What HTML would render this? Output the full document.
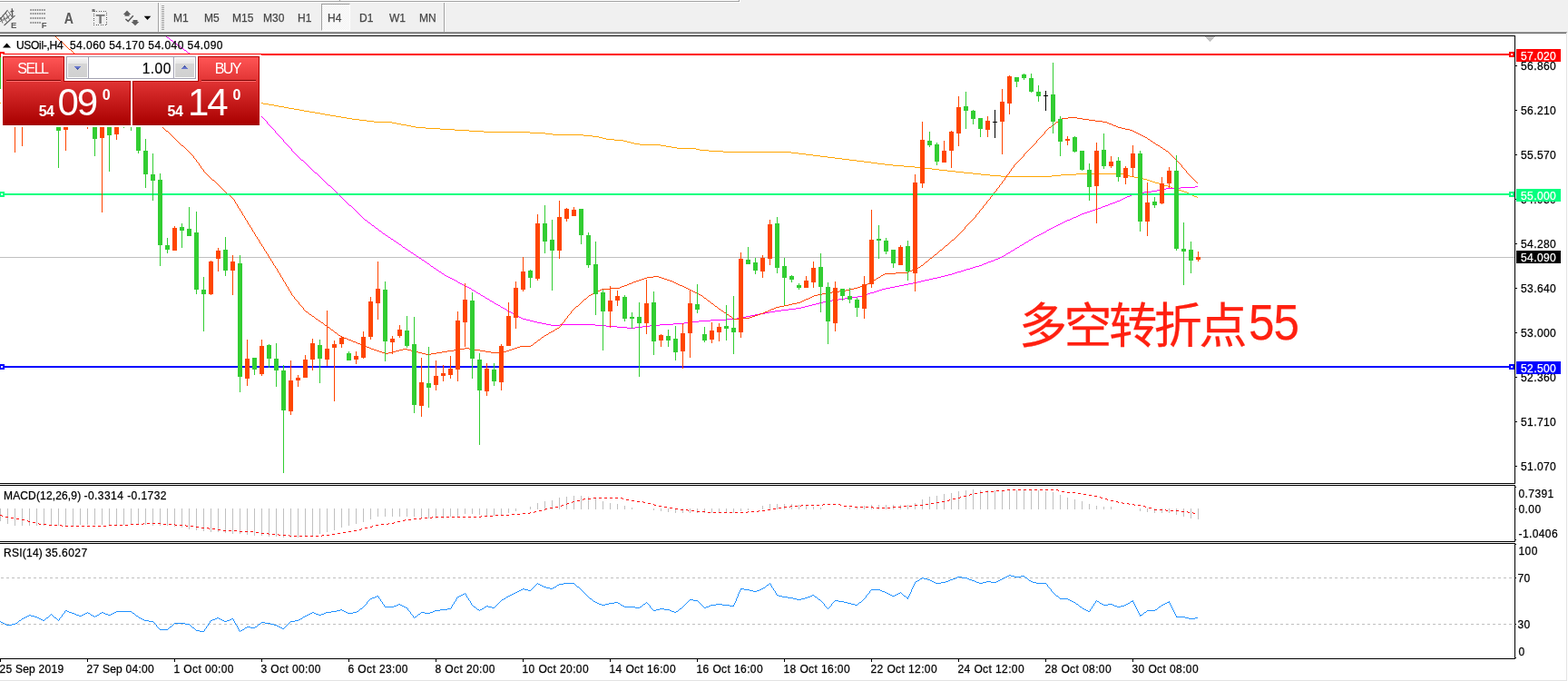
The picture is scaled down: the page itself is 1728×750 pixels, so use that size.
<!DOCTYPE html>
<html lang="zh"><head><meta charset="utf-8"><title>USOil H4</title><style>
html,body{margin:0;padding:0;background:#fff}
body{width:1728px;height:750px;overflow:hidden;position:relative;font-family:"Liberation Sans","Noto Sans CJK SC",sans-serif;font-size:12px;line-height:14px;color:#000}
.t{position:absolute;white-space:nowrap;font-size:12px;line-height:14px;height:14px;letter-spacing:0.4px;-webkit-text-stroke:0.25px currentColor}
.bx{position:absolute;left:1671px;width:49px;height:14px;color:#fff;font-size:12px;line-height:14px;letter-spacing:0.4px;box-sizing:border-box;padding:1px 0 0 5px;white-space:nowrap;overflow:hidden;-webkit-text-stroke:0.25px currentColor}
.t.tb{color:#484848;letter-spacing:0}
.t.big{font-family:"Liberation Sans","Noto Sans CJK SC",sans-serif;font-size:53px;line-height:64px;height:64px;color:#ff2010;letter-spacing:-3.4px}
.t.big .n{display:inline-block;font-size:55px;line-height:64px;letter-spacing:-1px;transform:scaleX(0.93);transform-origin:0 50%;margin-left:4.5px;position:relative;top:-3.5px}
.sep{position:absolute;top:3px;width:1px;height:32px;background:#a0a0a0;box-shadow:1px 0 0 #fff}
.grip{position:absolute;left:178px;top:6px;width:3px;height:27px;background:repeating-linear-gradient(#a0a0a0 0 1px,#f0f0f0 1px 2px)}
.h4box{position:absolute;left:354px;top:4px;width:32px;height:30px;box-sizing:border-box;border:1px solid;border-color:#a0a0a0 #fff #fff #a0a0a0;background:repeating-conic-gradient(#fff 0 25%,#f0f0f0 0 50%) 0 0/2px 2px}
#panel{position:absolute;left:1px;top:60px;width:287px;height:80px;background:#fff}
#panel .sell,#panel .buy{position:absolute;top:2px;height:28px;width:68px;box-sizing:border-box;border:1px solid #b40000;border-bottom:0;background:linear-gradient(#ff5555,#e03333);color:#fff;font-size:16px;text-align:center}
#panel .sell{left:2px} #panel .buy{left:217px}
#panel .sell span,#panel .buy span{position:absolute;top:4px;line-height:18px;white-space:nowrap}
#panel .sell span{left:15.3px;letter-spacing:-1.5px} #panel .buy span{left:17.7px;letter-spacing:-1.6px}
#panel u{position:absolute;left:3px;right:3px;top:25px;height:1px;background:#7a0000;box-shadow:0 1px 0 #ff6e6e}
#panel .lo{position:absolute;top:29px;height:49px;box-sizing:border-box;border:1px solid #b40000;border-bottom-color:#a00000;background:linear-gradient(#e03333,#a90000);color:#fff}
#panel .l1{left:2px;width:141px} #panel .l2{left:145px;width:140px}
#panel .lo span{position:absolute;white-space:nowrap}
#panel .lo .s{font-size:16px;font-weight:bold;left:38.7px;top:24.5px;line-height:16px;letter-spacing:-0.5px}
#panel .lo .b{font-size:42px;left:59.5px;top:1px;line-height:44px;letter-spacing:-2px}
#panel .lo .u{font-size:16px;font-weight:bold;left:108.7px;top:6.5px;line-height:16px}
#panel .l2 .s{left:37.5px} #panel .l2 .b{left:60px} #panel .l2 .u{left:109.5px}
#panel .vol{position:absolute;left:72px;top:2px;width:143px;height:25px;box-sizing:border-box;border:1px solid #a3a3b3;background:#fff}
#panel .vol .sp{position:absolute;top:1px;width:21px;height:21px;background:linear-gradient(#f4f4f4,#e6e6e6 30%,#d6d6d6 31%,#d0d0d0)}
#panel .vol .a{left:1px} #panel .vol .b{right:1px}
#panel .vol .vs{position:absolute;top:0;width:1px;height:23px;background:#a3a3b3}
#panel .vol .inp{position:absolute;right:26.3px;top:3px;font-size:15.6px;line-height:19px;color:#000;letter-spacing:0.4px;-webkit-text-stroke:0.2px #000}
#panel .vol svg{position:absolute;left:7px;top:9px;display:block}
#panel .vol .b svg{top:8px}
</style></head><body>
<svg width="1728" height="750" viewBox="0 0 1728 750" shape-rendering="crispEdges" style="position:absolute;left:0;top:0">
<rect x="0" y="0" width="1728" height="750" fill="#fff"/>
<rect x="0" y="0" width="1728" height="37" fill="#f0f0f0"/>
<rect x="0" y="0" width="814" height="1" fill="#fff"/>
<rect x="0" y="1" width="815" height="1" fill="#a0a0a0"/>
<rect x="0" y="2" width="816" height="1" fill="#fff"/>
<rect x="814" y="0" width="1" height="2" fill="#a0a0a0"/>
<rect x="815" y="0" width="1" height="3" fill="#fff"/>
<rect x="374" y="0" width="1" height="1" fill="#a0a0a0"/>
<rect x="375" y="0" width="1" height="1" fill="#fff"/>
<rect x="0" y="35" width="1727" height="1" fill="#a0a0a0"/>
<rect x="0" y="36" width="1726" height="1" fill="#696969"/>
<rect x="1726" y="37" width="1" height="713" fill="#e3e3e3"/>
<rect x="0" y="749" width="1727" height="1" fill="#e3e3e3"/>
<rect x="0" y="283" width="1669" height="1" fill="#c0c0c0"/>
<path d="M0 113h290v1h-290zM290 114h6v1h-6zM296 115h6v1h-6zM302 116h5v1h-5zM307 117h6v1h-6zM313 118h5v1h-5zM318 119h6v1h-6zM324 120h6v1h-6zM330 121h5v1h-5zM335 122h6v1h-6zM341 123h6v1h-6zM347 124h6v1h-6zM353 125h5v1h-5zM358 126h6v1h-6zM364 127h6v1h-6zM370 128h6v1h-6zM376 129h6v1h-6zM382 130h6v1h-6zM388 131h8v1h-8zM396 132h8v1h-8zM404 133h8v1h-8zM412 134h20v1h-20zM432 135h5v1h-5zM437 136h5v1h-5zM442 137h6v1h-6zM448 138h5v1h-5zM453 139h5v1h-5zM458 140h11v1h-11zM469 141h16v1h-16zM485 142h16v1h-16zM501 143h16v1h-16zM517 144h16v1h-16zM533 145h51v1h-51zM584 146h17v1h-17zM601 147h8v1h-8zM609 148h34v1h-34zM643 149h10v1h-10zM653 150h7v1h-7zM660 151h4v1h-4zM664 152h4v1h-4zM668 153h9v1h-9zM677 154h10v1h-10zM687 155h4v1h-4zM691 156h4v1h-4zM695 157h4v1h-4zM699 158h6v1h-6zM705 159h23v1h-23zM728 160h6v1h-6zM734 161h6v1h-6zM740 162h6v1h-6zM746 163h21v1h-21zM767 164h4v1h-4zM771 165h10v1h-10zM781 166h16v1h-16zM797 167h75v1h-75zM872 168h8v1h-8zM880 169h8v1h-8zM888 170h8v1h-8zM896 171h8v1h-8zM904 172h8v1h-8zM912 173h8v1h-8zM920 174h8v1h-8zM928 175h8v1h-8zM936 176h8v1h-8zM944 177h8v1h-8zM952 178h8v1h-8zM960 179h7v1h-7zM967 180h8v1h-8zM975 181h9v1h-9zM984 182h12v1h-12zM996 183h12v1h-12zM1008 184h10v1h-10zM1018 185h9v1h-9zM1027 186h8v1h-8zM1035 187h9v1h-9zM1044 188h9v1h-9zM1053 189h9v1h-9zM1062 190h10v1h-10zM1072 191h9v1h-9zM1186 191h52v1h-52zM1081 192h10v1h-10zM1169 192h17v1h-17zM1238 192h3v1h-3zM1091 193h12v1h-12zM1159 193h10v1h-10zM1241 193h4v1h-4zM1103 194h56v1h-56zM1245 194h5v1h-5zM1250 195h6v1h-6zM1256 196h4v1h-4zM1260 197h4v1h-4zM1264 198h3v1h-3zM1267 199h3v1h-3zM1270 200h3v1h-3zM1273 201h4v1h-4zM1277 202h3v1h-3zM1280 203h3v1h-3zM1283 204h4v1h-4zM1287 205h3v1h-3zM1290 206h2v1h-2zM1292 207h3v1h-3zM1295 208h4v1h-4zM1299 209h3v1h-3zM1302 210h3v1h-3zM1305 211h3v1h-3zM1308 212h2v1h-2zM1310 213h2v1h-2zM1312 214h2v1h-2zM1314 215h2v1h-2zM1316 216h3v1h-3zM1319 217h1v1h-1z" fill="#ffa500"/>
<path d="M183 40h1v1h-1zM184 41h2v1h-2zM186 42h1v1h-1zM187 43h1v1h-1zM188 44h2v1h-2zM190 45h1v1h-1zM191 46h1v1h-1zM192 47h2v1h-2zM194 48h1v1h-1zM195 49h1v1h-1zM196 50h2v1h-2zM198 51h1v1h-1zM199 52h2v1h-2zM201 53h1v1h-1zM202 54h1v1h-1zM203 55h2v1h-2zM205 56h1v1h-1zM206 57h1v1h-1zM207 58h2v1h-2zM209 59h1v1h-1zM210 60h1v1h-1zM211 61h1v1h-1zM212 62h1v1h-1zM213 63h2v1h-2zM215 64h1v1h-1zM216 65h1v1h-1zM217 66h1v1h-1zM218 67h1v1h-1zM219 68h1v1h-1zM220 69h1v1h-1zM221 70h2v1h-2zM223 71h1v1h-1zM224 72h1v1h-1zM225 73h1v1h-1zM226 74h1v1h-1zM227 75h1v1h-1zM228 76h1v1h-1zM229 77h2v1h-2zM231 78h1v1h-1zM232 79h1v1h-1zM233 80h1v1h-1zM234 81h1v1h-1zM235 82h1v1h-1zM236 83h1v1h-1zM237 84h2v1h-2zM239 85h1v1h-1zM240 86h1v1h-1zM241 87h1v1h-1zM242 88h1v1h-1zM243 89h1v1h-1zM244 90h1v1h-1zM245 91h2v1h-2zM247 92h1v1h-1zM248 93h1v1h-1zM249 94h1v1h-1zM250 95h1v1h-1zM251 96h1v1h-1zM252 97h1v1h-1zM253 98h2v1h-2zM255 99h1v1h-1zM256 100h1v1h-1zM257 101h1v1h-1zM258 102h1v1h-1zM259 103h1v1h-1zM260 104h1v1h-1zM261 105h2v1h-2zM263 106h1v1h-1zM264 107h1v1h-1zM265 108h1v1h-1zM266 109h1v1h-1zM267 110h1v1h-1zM268 111h1v1h-1zM269 112h2v1h-2zM271 113h1v1h-1zM272 114h1v1h-1zM273 115h1v1h-1zM274 116h1v1h-1zM275 117h1v1h-1zM276 118h1v1h-1zM277 119h2v1h-2zM279 120h1v1h-1zM280 121h1v1h-1zM281 122h1v1h-1zM282 123h1v1h-1zM283 124h1v1h-1zM284 125h1v1h-1zM285 126h2v1h-2zM287 127h1v1h-1zM288 128h1v1h-1zM289 129h1v1h-1zM290 130h1v1h-1zM291 131h1v1h-1zM292 132h1v1h-1zM293 133h1v1h-1zM294 134h1v1h-1zM294 135h1v1h-1zM295 136h1v1h-1zM296 137h1v1h-1zM297 138h1v1h-1zM298 139h1v1h-1zM299 140h1v1h-1zM300 141h1v1h-1zM301 142h1v1h-1zM302 143h1v1h-1zM303 144h1v1h-1zM303 145h1v1h-1zM304 146h1v1h-1zM305 147h1v1h-1zM306 148h1v1h-1zM307 149h1v1h-1zM308 150h1v1h-1zM309 151h1v1h-1zM310 152h1v1h-1zM311 153h1v1h-1zM312 154h1v1h-1zM312 155h1v1h-1zM313 156h1v1h-1zM314 157h1v1h-1zM315 158h1v1h-1zM316 159h1v1h-1zM317 160h1v1h-1zM318 161h1v1h-1zM319 162h1v1h-1zM320 163h1v1h-1zM321 164h1v1h-1zM321 165h1v1h-1zM322 166h1v1h-1zM323 167h1v1h-1zM324 168h1v1h-1zM325 169h1v1h-1zM326 170h1v1h-1zM327 171h1v1h-1zM328 172h1v1h-1zM329 173h1v1h-1zM330 174h1v1h-1zM331 175h1v1h-1zM332 176h2v1h-2zM334 177h1v1h-1zM335 178h1v1h-1zM336 179h1v1h-1zM337 180h1v1h-1zM338 181h1v1h-1zM339 182h1v1h-1zM340 183h1v1h-1zM341 184h1v1h-1zM342 185h1v1h-1zM343 186h1v1h-1zM344 187h1v1h-1zM345 188h1v1h-1zM346 189h1v1h-1zM347 190h2v1h-2zM349 191h1v1h-1zM350 192h1v1h-1zM351 193h1v1h-1zM352 194h1v1h-1zM353 195h1v1h-1zM354 196h1v1h-1zM355 197h1v1h-1zM356 198h1v1h-1zM357 199h1v1h-1zM358 200h1v1h-1zM359 201h1v1h-1zM360 202h1v1h-1zM361 203h1v1h-1zM362 204h2v1h-2zM364 205h1v1h-1zM1317 205h3v1h-3zM365 206h1v1h-1zM1301 206h16v1h-16zM366 207h1v1h-1zM1285 207h16v1h-16zM367 208h1v1h-1zM1279 208h6v1h-6zM368 209h1v1h-1zM1275 209h4v1h-4zM369 210h1v1h-1zM1269 210h6v1h-6zM370 211h1v1h-1zM1261 211h8v1h-8zM371 212h1v1h-1zM1255 212h6v1h-6zM372 213h1v1h-1zM1251 213h4v1h-4zM373 214h1v1h-1zM1247 214h4v1h-4zM374 215h1v1h-1zM1245 215h2v1h-2zM375 216h1v1h-1zM1242 216h3v1h-3zM376 217h1v1h-1zM1240 217h2v1h-2zM377 218h1v1h-1zM1238 218h2v1h-2zM378 219h1v1h-1zM1236 219h2v1h-2zM379 220h1v1h-1zM1234 220h2v1h-2zM380 221h1v1h-1zM1231 221h3v1h-3zM381 222h1v1h-1zM1229 222h2v1h-2zM382 223h1v1h-1zM1226 223h3v1h-3zM383 224h1v1h-1zM1223 224h3v1h-3zM384 225h1v1h-1zM1221 225h2v1h-2zM385 226h2v1h-2zM1218 226h3v1h-3zM387 227h1v1h-1zM1215 227h3v1h-3zM388 228h1v1h-1zM1213 228h2v1h-2zM389 229h1v1h-1zM1210 229h3v1h-3zM390 230h1v1h-1zM1207 230h3v1h-3zM391 231h1v1h-1zM1204 231h3v1h-3zM392 232h1v1h-1zM1201 232h3v1h-3zM393 233h1v1h-1zM1198 233h3v1h-3zM394 234h1v1h-1zM1195 234h3v1h-3zM395 235h1v1h-1zM1192 235h3v1h-3zM396 236h1v1h-1zM1190 236h2v1h-2zM397 237h1v1h-1zM1188 237h2v1h-2zM398 238h1v1h-1zM1186 238h2v1h-2zM399 239h1v1h-1zM1183 239h3v1h-3zM400 240h1v1h-1zM1181 240h2v1h-2zM401 241h1v1h-1zM1179 241h2v1h-2zM402 242h2v1h-2zM1176 242h3v1h-3zM404 243h1v1h-1zM1174 243h2v1h-2zM405 244h1v1h-1zM1172 244h2v1h-2zM406 245h2v1h-2zM1170 245h2v1h-2zM408 246h1v1h-1zM1168 246h2v1h-2zM409 247h1v1h-1zM1166 247h2v1h-2zM410 248h2v1h-2zM1164 248h2v1h-2zM412 249h1v1h-1zM1162 249h2v1h-2zM413 250h1v1h-1zM1160 250h2v1h-2zM414 251h2v1h-2zM1158 251h2v1h-2zM416 252h1v1h-1zM1156 252h2v1h-2zM417 253h1v1h-1zM1154 253h2v1h-2zM418 254h2v1h-2zM1153 254h1v1h-1zM420 255h1v1h-1zM1151 255h2v1h-2zM421 256h1v1h-1zM1149 256h2v1h-2zM422 257h2v1h-2zM1147 257h2v1h-2zM424 258h1v1h-1zM1145 258h2v1h-2zM425 259h2v1h-2zM1143 259h2v1h-2zM427 260h1v1h-1zM1141 260h2v1h-2zM428 261h2v1h-2zM1139 261h2v1h-2zM430 262h1v1h-1zM1138 262h1v1h-1zM431 263h2v1h-2zM1136 263h2v1h-2zM433 264h1v1h-1zM1134 264h2v1h-2zM434 265h2v1h-2zM1133 265h1v1h-1zM436 266h1v1h-1zM1131 266h2v1h-2zM437 267h2v1h-2zM1129 267h2v1h-2zM439 268h1v1h-1zM1128 268h1v1h-1zM440 269h2v1h-2zM1126 269h2v1h-2zM442 270h1v1h-1zM1124 270h2v1h-2zM443 271h1v1h-1zM1123 271h1v1h-1zM444 272h2v1h-2zM1121 272h2v1h-2zM446 273h1v1h-1zM1119 273h2v1h-2zM447 274h2v1h-2zM1118 274h1v1h-1zM449 275h1v1h-1zM1116 275h2v1h-2zM450 276h2v1h-2zM1114 276h2v1h-2zM452 277h1v1h-1zM1113 277h1v1h-1zM453 278h2v1h-2zM1111 278h2v1h-2zM455 279h1v1h-1zM1109 279h2v1h-2zM456 280h2v1h-2zM1108 280h1v1h-1zM458 281h1v1h-1zM1106 281h2v1h-2zM459 282h2v1h-2zM1104 282h2v1h-2zM461 283h1v1h-1zM1102 283h2v1h-2zM462 284h2v1h-2zM1100 284h2v1h-2zM464 285h1v1h-1zM1097 285h3v1h-3zM465 286h2v1h-2zM1095 286h2v1h-2zM467 287h1v1h-1zM1092 287h3v1h-3zM468 288h2v1h-2zM1089 288h3v1h-3zM470 289h1v1h-1zM1087 289h2v1h-2zM471 290h2v1h-2zM1084 290h3v1h-3zM473 291h1v1h-1zM1082 291h2v1h-2zM474 292h1v1h-1zM1079 292h3v1h-3zM475 293h2v1h-2zM1075 293h4v1h-4zM477 294h1v1h-1zM1072 294h3v1h-3zM478 295h2v1h-2zM1069 295h3v1h-3zM480 296h1v1h-1zM1065 296h4v1h-4zM481 297h2v1h-2zM1062 297h3v1h-3zM483 298h1v1h-1zM1059 298h3v1h-3zM484 299h2v1h-2zM1055 299h4v1h-4zM486 300h1v1h-1zM1052 300h3v1h-3zM487 301h2v1h-2zM1049 301h3v1h-3zM489 302h1v1h-1zM1045 302h4v1h-4zM490 303h2v1h-2zM1041 303h4v1h-4zM492 304h2v1h-2zM1037 304h4v1h-4zM494 305h2v1h-2zM1033 305h4v1h-4zM496 306h2v1h-2zM1028 306h5v1h-5zM498 307h2v1h-2zM1024 307h4v1h-4zM500 308h2v1h-2zM1019 308h5v1h-5zM502 309h2v1h-2zM1015 309h4v1h-4zM504 310h1v1h-1zM1011 310h4v1h-4zM505 311h2v1h-2zM1006 311h5v1h-5zM507 312h2v1h-2zM1001 312h5v1h-5zM509 313h2v1h-2zM996 313h5v1h-5zM511 314h2v1h-2zM991 314h5v1h-5zM513 315h2v1h-2zM986 315h5v1h-5zM515 316h2v1h-2zM981 316h5v1h-5zM517 317h2v1h-2zM976 317h5v1h-5zM519 318h1v1h-1zM972 318h4v1h-4zM520 319h2v1h-2zM969 319h3v1h-3zM522 320h2v1h-2zM966 320h3v1h-3zM524 321h1v1h-1zM963 321h3v1h-3zM525 322h2v1h-2zM959 322h4v1h-4zM527 323h2v1h-2zM956 323h3v1h-3zM529 324h1v1h-1zM953 324h3v1h-3zM530 325h2v1h-2zM950 325h3v1h-3zM532 326h2v1h-2zM945 326h5v1h-5zM534 327h1v1h-1zM938 327h7v1h-7zM535 328h2v1h-2zM931 328h7v1h-7zM537 329h2v1h-2zM924 329h7v1h-7zM539 330h1v1h-1zM917 330h7v1h-7zM540 331h2v1h-2zM911 331h6v1h-6zM542 332h2v1h-2zM907 332h4v1h-4zM544 333h1v1h-1zM903 333h4v1h-4zM545 334h2v1h-2zM899 334h4v1h-4zM547 335h2v1h-2zM895 335h4v1h-4zM549 336h2v1h-2zM891 336h4v1h-4zM551 337h1v1h-1zM887 337h4v1h-4zM552 338h2v1h-2zM883 338h4v1h-4zM554 339h2v1h-2zM877 339h6v1h-6zM556 340h2v1h-2zM869 340h8v1h-8zM558 341h1v1h-1zM861 341h8v1h-8zM559 342h2v1h-2zM854 342h7v1h-7zM561 343h2v1h-2zM848 343h6v1h-6zM563 344h2v1h-2zM843 344h5v1h-5zM565 345h2v1h-2zM837 345h6v1h-6zM567 346h1v1h-1zM832 346h5v1h-5zM568 347h2v1h-2zM827 347h5v1h-5zM570 348h2v1h-2zM822 348h5v1h-5zM572 349h2v1h-2zM817 349h5v1h-5zM574 350h2v1h-2zM812 350h5v1h-5zM576 351h4v1h-4zM801 351h11v1h-11zM580 352h4v1h-4zM783 352h18v1h-18zM584 353h4v1h-4zM770 353h13v1h-13zM588 354h4v1h-4zM762 354h8v1h-8zM592 355h5v1h-5zM754 355h8v1h-8zM597 356h5v1h-5zM742 356h12v1h-12zM602 357h5v1h-5zM617 357h39v1h-39zM727 357h15v1h-15zM607 358h10v1h-10zM656 358h12v1h-12zM716 358h11v1h-11zM668 359h12v1h-12zM708 359h8v1h-8zM680 360h11v1h-11zM700 360h8v1h-8zM691 361h9v1h-9z" fill="#ff00ff"/>
<path d="M61 40h1v1h-1zM62 41h1v1h-1zM63 42h1v1h-1zM64 43h1v1h-1zM65 44h1v1h-1zM66 45h2v1h-2zM68 46h1v1h-1zM69 47h1v1h-1zM70 48h1v1h-1zM71 49h1v1h-1zM72 50h1v1h-1zM73 51h1v1h-1zM74 52h1v1h-1zM75 53h1v1h-1zM76 54h2v1h-2zM78 55h1v1h-1zM79 56h1v1h-1zM80 57h1v1h-1zM81 58h1v1h-1zM82 59h1v1h-1zM83 60h1v1h-1zM84 61h1v1h-1zM85 62h2v1h-2zM87 63h1v1h-1zM88 64h1v1h-1zM89 65h1v1h-1zM90 66h1v1h-1zM91 67h2v1h-2zM93 68h1v1h-1zM94 69h1v1h-1zM95 70h1v1h-1zM96 71h1v1h-1zM97 72h2v1h-2zM99 73h1v1h-1zM100 74h1v1h-1zM101 75h1v1h-1zM102 76h1v1h-1zM103 77h2v1h-2zM105 78h1v1h-1zM106 79h1v1h-1zM107 80h1v1h-1zM108 81h1v1h-1zM109 82h2v1h-2zM111 83h1v1h-1zM112 84h1v1h-1zM113 85h1v1h-1zM114 86h1v1h-1zM115 87h2v1h-2zM117 88h1v1h-1zM118 89h1v1h-1zM119 90h1v1h-1zM120 91h1v1h-1zM121 92h2v1h-2zM123 93h1v1h-1zM124 94h1v1h-1zM125 95h1v1h-1zM126 96h1v1h-1zM127 97h2v1h-2zM129 98h1v1h-1zM130 99h1v1h-1zM131 100h1v1h-1zM132 101h1v1h-1zM133 102h2v1h-2zM135 103h1v1h-1zM136 104h1v1h-1zM137 105h1v1h-1zM138 106h1v1h-1zM139 107h2v1h-2zM141 108h1v1h-1zM142 109h1v1h-1zM143 110h1v1h-1zM144 111h1v1h-1zM145 112h2v1h-2zM147 113h1v1h-1zM148 114h1v1h-1zM149 115h1v1h-1zM150 116h1v1h-1zM151 117h2v1h-2zM153 118h1v1h-1zM154 119h1v1h-1zM155 120h1v1h-1zM156 121h1v1h-1zM157 122h2v1h-2zM159 123h1v1h-1zM160 124h1v1h-1zM161 125h1v1h-1zM162 126h1v1h-1zM163 127h2v1h-2zM165 128h1v1h-1zM166 129h1v1h-1zM1177 129h10v1h-10zM167 130h1v1h-1zM1170 130h7v1h-7zM1187 130h6v1h-6zM168 131h1v1h-1zM1168 131h2v1h-2zM1193 131h7v1h-7zM169 132h2v1h-2zM1167 132h1v1h-1zM1200 132h7v1h-7zM171 133h1v1h-1zM1166 133h1v1h-1zM1207 133h8v1h-8zM172 134h1v1h-1zM1164 134h2v1h-2zM1215 134h5v1h-5zM173 135h1v1h-1zM1163 135h1v1h-1zM1220 135h2v1h-2zM174 136h1v1h-1zM1162 136h1v1h-1zM1222 136h3v1h-3zM175 137h2v1h-2zM1160 137h2v1h-2zM1225 137h2v1h-2zM177 138h1v1h-1zM1159 138h1v1h-1zM1227 138h3v1h-3zM178 139h1v1h-1zM1158 139h1v1h-1zM1230 139h2v1h-2zM179 140h1v1h-1zM1156 140h2v1h-2zM1232 140h4v1h-4zM180 141h1v1h-1zM1155 141h1v1h-1zM1236 141h4v1h-4zM181 142h1v1h-1zM1154 142h1v1h-1zM1240 142h5v1h-5zM182 143h1v1h-1zM1153 143h1v1h-1zM1245 143h3v1h-3zM183 144h2v1h-2zM1152 144h1v1h-1zM1248 144h2v1h-2zM185 145h1v1h-1zM1151 145h1v1h-1zM1250 145h2v1h-2zM186 146h1v1h-1zM1151 146h1v1h-1zM1252 146h2v1h-2zM187 147h1v1h-1zM1150 147h1v1h-1zM1254 147h2v1h-2zM188 148h1v1h-1zM1149 148h1v1h-1zM1256 148h2v1h-2zM189 149h1v1h-1zM1148 149h1v1h-1zM1258 149h2v1h-2zM190 150h1v1h-1zM1147 150h1v1h-1zM1260 150h2v1h-2zM191 151h1v1h-1zM1146 151h1v1h-1zM1262 151h2v1h-2zM192 152h1v1h-1zM1145 152h1v1h-1zM1264 152h1v1h-1zM193 153h1v1h-1zM1144 153h1v1h-1zM1265 153h2v1h-2zM194 154h1v1h-1zM1143 154h1v1h-1zM1267 154h1v1h-1zM195 155h1v1h-1zM1142 155h1v1h-1zM1268 155h2v1h-2zM196 156h1v1h-1zM1142 156h1v1h-1zM1270 156h1v1h-1zM197 157h1v1h-1zM1141 157h1v1h-1zM1271 157h2v1h-2zM198 158h1v1h-1zM1140 158h1v1h-1zM1273 158h1v1h-1zM199 159h1v1h-1zM1139 159h1v1h-1zM1274 159h2v1h-2zM200 160h2v1h-2zM1138 160h1v1h-1zM1276 160h2v1h-2zM202 161h1v1h-1zM1137 161h1v1h-1zM1278 161h1v1h-1zM203 162h1v1h-1zM1136 162h1v1h-1zM1279 162h2v1h-2zM204 163h1v1h-1zM1135 163h1v1h-1zM1281 163h1v1h-1zM205 164h1v1h-1zM1134 164h1v1h-1zM1282 164h2v1h-2zM206 165h1v1h-1zM1133 165h1v1h-1zM1284 165h1v1h-1zM207 166h1v1h-1zM1132 166h1v1h-1zM1285 166h2v1h-2zM208 167h1v1h-1zM1131 167h1v1h-1zM1287 167h1v1h-1zM209 168h1v1h-1zM1130 168h1v1h-1zM1288 168h1v1h-1zM210 169h1v1h-1zM1129 169h1v1h-1zM1289 169h1v1h-1zM211 170h1v1h-1zM1128 170h1v1h-1zM1290 170h1v1h-1zM212 171h1v1h-1zM1128 171h1v1h-1zM1291 171h1v1h-1zM213 172h1v1h-1zM1127 172h1v1h-1zM1292 172h1v1h-1zM213 173h1v1h-1zM1126 173h1v1h-1zM1293 173h1v1h-1zM214 174h1v1h-1zM1125 174h1v1h-1zM1294 174h1v1h-1zM215 175h1v1h-1zM1124 175h1v1h-1zM1295 175h1v1h-1zM216 176h1v1h-1zM1123 176h1v1h-1zM1296 176h1v1h-1zM216 177h1v1h-1zM1122 177h1v1h-1zM1297 177h1v1h-1zM217 178h1v1h-1zM1121 178h1v1h-1zM1298 178h1v1h-1zM218 179h1v1h-1zM1120 179h1v1h-1zM1299 179h1v1h-1zM219 180h1v1h-1zM1119 180h1v1h-1zM1300 180h1v1h-1zM219 181h1v1h-1zM1118 181h1v1h-1zM1301 181h1v1h-1zM220 182h1v1h-1zM1117 182h1v1h-1zM1302 182h1v1h-1zM221 183h1v1h-1zM1117 183h1v1h-1zM1302 183h1v1h-1zM221 184h1v1h-1zM1116 184h1v1h-1zM1303 184h1v1h-1zM222 185h1v1h-1zM1115 185h1v1h-1zM1304 185h1v1h-1zM223 186h1v1h-1zM1114 186h1v1h-1zM1305 186h1v1h-1zM224 187h1v1h-1zM1114 187h1v1h-1zM1306 187h1v1h-1zM224 188h1v1h-1zM1113 188h1v1h-1zM1307 188h1v1h-1zM225 189h1v1h-1zM1112 189h1v1h-1zM1307 189h1v1h-1zM226 190h1v1h-1zM1112 190h1v1h-1zM1308 190h1v1h-1zM227 191h1v1h-1zM1111 191h1v1h-1zM1309 191h1v1h-1zM228 192h1v1h-1zM1110 192h1v1h-1zM1310 192h1v1h-1zM229 193h1v1h-1zM1109 193h1v1h-1zM1311 193h1v1h-1zM230 194h1v1h-1zM1109 194h1v1h-1zM1312 194h1v1h-1zM231 195h1v1h-1zM1108 195h1v1h-1zM1313 195h1v1h-1zM232 196h1v1h-1zM1107 196h1v1h-1zM1314 196h1v1h-1zM233 197h1v1h-1zM1107 197h1v1h-1zM1315 197h1v1h-1zM234 198h2v1h-2zM1106 198h1v1h-1zM1316 198h1v1h-1zM236 199h1v1h-1zM1105 199h1v1h-1zM1317 199h1v1h-1zM237 200h1v1h-1zM1104 200h1v1h-1zM1318 200h1v1h-1zM238 201h1v1h-1zM1104 201h1v1h-1zM1319 201h1v1h-1zM239 202h1v1h-1zM1103 202h1v1h-1zM240 203h1v1h-1zM1102 203h1v1h-1zM241 204h1v1h-1zM1101 204h1v1h-1zM242 205h1v1h-1zM1101 205h1v1h-1zM243 206h1v1h-1zM1100 206h1v1h-1zM244 207h1v1h-1zM1099 207h1v1h-1zM245 208h1v1h-1zM1098 208h1v1h-1zM246 209h1v1h-1zM1098 209h1v1h-1zM247 210h1v1h-1zM1097 210h1v1h-1zM248 211h1v1h-1zM1096 211h1v1h-1zM249 212h1v1h-1zM1095 212h1v1h-1zM250 213h2v1h-2zM1095 213h1v1h-1zM252 214h1v1h-1zM1094 214h1v1h-1zM253 215h1v1h-1zM1093 215h1v1h-1zM254 216h1v1h-1zM1092 216h1v1h-1zM255 217h1v1h-1zM1091 217h1v1h-1zM256 218h1v1h-1zM1091 218h1v1h-1zM257 219h1v1h-1zM1090 219h1v1h-1zM258 220h1v1h-1zM1089 220h1v1h-1zM258 221h1v1h-1zM1088 221h1v1h-1zM259 222h1v1h-1zM1087 222h1v1h-1zM259 223h1v1h-1zM1087 223h1v1h-1zM260 224h1v1h-1zM1086 224h1v1h-1zM261 225h1v1h-1zM1085 225h1v1h-1zM261 226h1v1h-1zM1084 226h1v1h-1zM262 227h1v1h-1zM1083 227h1v1h-1zM262 228h1v1h-1zM1083 228h1v1h-1zM263 229h1v1h-1zM1082 229h1v1h-1zM264 230h1v1h-1zM1081 230h1v1h-1zM264 231h1v1h-1zM1080 231h1v1h-1zM265 232h1v1h-1zM1079 232h1v1h-1zM266 233h1v1h-1zM1079 233h1v1h-1zM266 234h1v1h-1zM1078 234h1v1h-1zM267 235h1v1h-1zM1077 235h1v1h-1zM267 236h1v1h-1zM1076 236h1v1h-1zM268 237h1v1h-1zM1075 237h1v1h-1zM269 238h1v1h-1zM1075 238h1v1h-1zM269 239h1v1h-1zM1074 239h1v1h-1zM270 240h1v1h-1zM1073 240h1v1h-1zM270 241h1v1h-1zM1072 241h1v1h-1zM271 242h1v1h-1zM1071 242h1v1h-1zM272 243h1v1h-1zM1070 243h1v1h-1zM272 244h1v1h-1zM1069 244h1v1h-1zM273 245h1v1h-1zM1068 245h1v1h-1zM273 246h1v1h-1zM1067 246h1v1h-1zM274 247h1v1h-1zM1066 247h1v1h-1zM275 248h1v1h-1zM1065 248h1v1h-1zM275 249h1v1h-1zM1064 249h1v1h-1zM276 250h1v1h-1zM1063 250h1v1h-1zM277 251h1v1h-1zM1063 251h1v1h-1zM277 252h1v1h-1zM1062 252h1v1h-1zM278 253h1v1h-1zM1061 253h1v1h-1zM278 254h1v1h-1zM1060 254h1v1h-1zM279 255h1v1h-1zM1059 255h1v1h-1zM280 256h1v1h-1zM1058 256h1v1h-1zM280 257h1v1h-1zM1057 257h1v1h-1zM281 258h1v1h-1zM1056 258h1v1h-1zM281 259h1v1h-1zM1055 259h1v1h-1zM282 260h1v1h-1zM1054 260h1v1h-1zM283 261h1v1h-1zM1053 261h1v1h-1zM283 262h1v1h-1zM1052 262h1v1h-1zM284 263h1v1h-1zM1051 263h1v1h-1zM285 264h1v1h-1zM1049 264h2v1h-2zM285 265h1v1h-1zM1048 265h1v1h-1zM286 266h1v1h-1zM1047 266h1v1h-1zM286 267h1v1h-1zM1046 267h1v1h-1zM287 268h1v1h-1zM1045 268h1v1h-1zM288 269h1v1h-1zM1044 269h1v1h-1zM288 270h1v1h-1zM1042 270h2v1h-2zM289 271h1v1h-1zM1041 271h1v1h-1zM290 272h1v1h-1zM1040 272h1v1h-1zM290 273h1v1h-1zM1039 273h1v1h-1zM291 274h1v1h-1zM1038 274h1v1h-1zM291 275h1v1h-1zM1036 275h2v1h-2zM292 276h1v1h-1zM1035 276h1v1h-1zM293 277h1v1h-1zM1034 277h1v1h-1zM293 278h1v1h-1zM1033 278h1v1h-1zM294 279h1v1h-1zM1032 279h1v1h-1zM295 280h1v1h-1zM1030 280h2v1h-2zM295 281h1v1h-1zM1029 281h1v1h-1zM296 282h1v1h-1zM1028 282h1v1h-1zM296 283h1v1h-1zM1027 283h1v1h-1zM297 284h1v1h-1zM1025 284h2v1h-2zM298 285h1v1h-1zM1024 285h1v1h-1zM298 286h1v1h-1zM1023 286h1v1h-1zM299 287h1v1h-1zM1022 287h1v1h-1zM300 288h1v1h-1zM1020 288h2v1h-2zM300 289h1v1h-1zM1019 289h1v1h-1zM301 290h1v1h-1zM1018 290h1v1h-1zM301 291h1v1h-1zM1017 291h1v1h-1zM302 292h1v1h-1zM1015 292h2v1h-2zM303 293h1v1h-1zM1014 293h1v1h-1zM303 294h1v1h-1zM1012 294h2v1h-2zM304 295h1v1h-1zM1010 295h2v1h-2zM305 296h1v1h-1zM1007 296h3v1h-3zM305 297h1v1h-1zM1005 297h2v1h-2zM306 298h1v1h-1zM1002 298h3v1h-3zM306 299h1v1h-1zM1000 299h2v1h-2zM307 300h1v1h-1zM987 300h13v1h-13zM308 301h1v1h-1zM975 301h12v1h-12zM308 302h1v1h-1zM973 302h2v1h-2zM309 303h1v1h-1zM971 303h2v1h-2zM309 304h1v1h-1zM720 304h6v1h-6zM970 304h1v1h-1zM310 305h1v1h-1zM713 305h7v1h-7zM726 305h3v1h-3zM968 305h2v1h-2zM311 306h1v1h-1zM710 306h3v1h-3zM729 306h3v1h-3zM966 306h2v1h-2zM311 307h1v1h-1zM707 307h3v1h-3zM732 307h3v1h-3zM965 307h1v1h-1zM312 308h1v1h-1zM704 308h3v1h-3zM735 308h3v1h-3zM963 308h2v1h-2zM312 309h1v1h-1zM701 309h3v1h-3zM738 309h3v1h-3zM961 309h2v1h-2zM313 310h1v1h-1zM698 310h3v1h-3zM741 310h2v1h-2zM959 310h2v1h-2zM314 311h1v1h-1zM696 311h2v1h-2zM743 311h2v1h-2zM958 311h1v1h-1zM314 312h1v1h-1zM693 312h3v1h-3zM745 312h2v1h-2zM956 312h2v1h-2zM315 313h1v1h-1zM691 313h2v1h-2zM747 313h2v1h-2zM954 313h2v1h-2zM315 314h1v1h-1zM688 314h3v1h-3zM749 314h3v1h-3zM952 314h2v1h-2zM316 315h1v1h-1zM685 315h3v1h-3zM752 315h2v1h-2zM948 315h4v1h-4zM317 316h1v1h-1zM683 316h2v1h-2zM754 316h2v1h-2zM945 316h3v1h-3zM317 317h1v1h-1zM673 317h10v1h-10zM756 317h2v1h-2zM941 317h4v1h-4zM318 318h1v1h-1zM663 318h10v1h-10zM758 318h2v1h-2zM937 318h4v1h-4zM318 319h1v1h-1zM661 319h2v1h-2zM760 319h2v1h-2zM932 319h5v1h-5zM319 320h1v1h-1zM659 320h2v1h-2zM762 320h2v1h-2zM925 320h7v1h-7zM320 321h1v1h-1zM657 321h2v1h-2zM764 321h2v1h-2zM917 321h8v1h-8zM320 322h1v1h-1zM655 322h2v1h-2zM766 322h2v1h-2zM911 322h6v1h-6zM321 323h1v1h-1zM653 323h2v1h-2zM768 323h2v1h-2zM906 323h5v1h-5zM321 324h1v1h-1zM651 324h2v1h-2zM770 324h2v1h-2zM901 324h5v1h-5zM322 325h1v1h-1zM649 325h2v1h-2zM772 325h2v1h-2zM897 325h4v1h-4zM323 326h1v1h-1zM648 326h1v1h-1zM774 326h1v1h-1zM895 326h2v1h-2zM324 327h1v1h-1zM647 327h1v1h-1zM775 327h1v1h-1zM893 327h2v1h-2zM324 328h1v1h-1zM646 328h1v1h-1zM776 328h2v1h-2zM891 328h2v1h-2zM325 329h1v1h-1zM644 329h2v1h-2zM778 329h1v1h-1zM888 329h3v1h-3zM326 330h1v1h-1zM643 330h1v1h-1zM779 330h1v1h-1zM886 330h2v1h-2zM327 331h1v1h-1zM642 331h1v1h-1zM780 331h2v1h-2zM884 331h2v1h-2zM328 332h1v1h-1zM641 332h1v1h-1zM782 332h1v1h-1zM882 332h2v1h-2zM329 333h1v1h-1zM640 333h1v1h-1zM783 333h1v1h-1zM878 333h4v1h-4zM329 334h1v1h-1zM639 334h1v1h-1zM784 334h2v1h-2zM873 334h5v1h-5zM330 335h1v1h-1zM638 335h1v1h-1zM786 335h1v1h-1zM869 335h4v1h-4zM331 336h1v1h-1zM637 336h1v1h-1zM787 336h1v1h-1zM864 336h5v1h-5zM332 337h1v1h-1zM635 337h2v1h-2zM788 337h2v1h-2zM859 337h5v1h-5zM333 338h1v1h-1zM634 338h1v1h-1zM790 338h1v1h-1zM855 338h4v1h-4zM334 339h1v1h-1zM633 339h1v1h-1zM791 339h1v1h-1zM853 339h2v1h-2zM334 340h1v1h-1zM632 340h1v1h-1zM792 340h2v1h-2zM850 340h3v1h-3zM335 341h1v1h-1zM631 341h1v1h-1zM794 341h1v1h-1zM848 341h2v1h-2zM336 342h1v1h-1zM630 342h1v1h-1zM795 342h2v1h-2zM846 342h2v1h-2zM337 343h2v1h-2zM629 343h1v1h-1zM797 343h1v1h-1zM843 343h3v1h-3zM339 344h1v1h-1zM629 344h1v1h-1zM798 344h2v1h-2zM841 344h2v1h-2zM340 345h1v1h-1zM628 345h1v1h-1zM800 345h1v1h-1zM838 345h3v1h-3zM341 346h2v1h-2zM627 346h1v1h-1zM801 346h2v1h-2zM835 346h3v1h-3zM343 347h1v1h-1zM626 347h1v1h-1zM803 347h1v1h-1zM832 347h3v1h-3zM344 348h2v1h-2zM625 348h1v1h-1zM804 348h2v1h-2zM829 348h3v1h-3zM346 349h1v1h-1zM625 349h1v1h-1zM806 349h1v1h-1zM826 349h3v1h-3zM347 350h1v1h-1zM624 350h1v1h-1zM807 350h2v1h-2zM817 350h9v1h-9zM348 351h2v1h-2zM623 351h1v1h-1zM809 351h8v1h-8zM350 352h1v1h-1zM622 352h1v1h-1zM351 353h2v1h-2zM622 353h1v1h-1zM353 354h1v1h-1zM621 354h1v1h-1zM354 355h2v1h-2zM620 355h1v1h-1zM356 356h1v1h-1zM619 356h1v1h-1zM357 357h1v1h-1zM618 357h1v1h-1zM358 358h2v1h-2zM618 358h1v1h-1zM360 359h1v1h-1zM617 359h1v1h-1zM361 360h2v1h-2zM616 360h1v1h-1zM363 361h1v1h-1zM614 361h2v1h-2zM364 362h1v1h-1zM612 362h2v1h-2zM365 363h2v1h-2zM611 363h1v1h-1zM367 364h1v1h-1zM609 364h2v1h-2zM368 365h1v1h-1zM607 365h2v1h-2zM369 366h2v1h-2zM605 366h2v1h-2zM371 367h1v1h-1zM604 367h1v1h-1zM372 368h1v1h-1zM602 368h2v1h-2zM373 369h2v1h-2zM600 369h2v1h-2zM375 370h2v1h-2zM599 370h1v1h-1zM377 371h2v1h-2zM597 371h2v1h-2zM379 372h3v1h-3zM596 372h1v1h-1zM382 373h2v1h-2zM595 373h1v1h-1zM384 374h3v1h-3zM593 374h2v1h-2zM387 375h2v1h-2zM592 375h1v1h-1zM389 376h3v1h-3zM591 376h1v1h-1zM392 377h2v1h-2zM589 377h2v1h-2zM394 378h3v1h-3zM588 378h1v1h-1zM397 379h2v1h-2zM587 379h1v1h-1zM399 380h3v1h-3zM585 380h2v1h-2zM402 381h2v1h-2zM573 381h12v1h-12zM404 382h3v1h-3zM570 382h3v1h-3zM407 383h2v1h-2zM512 383h5v1h-5zM567 383h3v1h-3zM409 384h3v1h-3zM444 384h5v1h-5zM506 384h6v1h-6zM517 384h6v1h-6zM564 384h3v1h-3zM412 385h3v1h-3zM440 385h4v1h-4zM449 385h4v1h-4zM500 385h6v1h-6zM523 385h6v1h-6zM561 385h3v1h-3zM415 386h3v1h-3zM436 386h4v1h-4zM453 386h4v1h-4zM493 386h7v1h-7zM529 386h6v1h-6zM558 386h3v1h-3zM418 387h3v1h-3zM432 387h4v1h-4zM457 387h4v1h-4zM487 387h6v1h-6zM535 387h6v1h-6zM551 387h7v1h-7zM421 388h3v1h-3zM428 388h4v1h-4zM461 388h4v1h-4zM481 388h6v1h-6zM541 388h10v1h-10zM424 389h4v1h-4zM465 389h4v1h-4zM475 389h6v1h-6zM469 390h6v1h-6z" fill="#ff4500"/>
<rect x="0" y="59" width="1669" height="2" fill="#ff0000"/>
<rect x="0" y="213" width="1669" height="2" fill="#00ff7f"/>
<rect x="0" y="403" width="1669" height="2" fill="#0000ff"/>
<rect x="-1" y="57" width="6" height="6" fill="#ff0000"/>
<rect x="1" y="59" width="2" height="2" fill="#fff"/>
<rect x="1663" y="57" width="6" height="6" fill="#ff0000"/>
<rect x="1665" y="59" width="2" height="2" fill="#fff"/>
<rect x="-1" y="211" width="6" height="6" fill="#00ff7f"/>
<rect x="1" y="213" width="2" height="2" fill="#fff"/>
<rect x="1663" y="211" width="6" height="6" fill="#00ff7f"/>
<rect x="1665" y="213" width="2" height="2" fill="#fff"/>
<rect x="-1" y="401" width="6" height="6" fill="#0000ff"/>
<rect x="1" y="403" width="2" height="2" fill="#fff"/>
<rect x="1663" y="401" width="6" height="6" fill="#0000ff"/>
<rect x="1665" y="403" width="2" height="2" fill="#fff"/>
<rect x="0" y="63" width="1" height="35" fill="#32cd32"/>
<rect x="-2" y="63" width="5" height="35" fill="#32cd32"/>
<rect x="16" y="138" width="1" height="30" fill="#ff4500"/>
<rect x="24" y="138" width="1" height="23" fill="#ff4500"/>
<rect x="64" y="138" width="1" height="47" fill="#32cd32"/>
<rect x="62" y="138" width="5" height="6" fill="#32cd32"/>
<rect x="72" y="138" width="1" height="28" fill="#ff4500"/>
<rect x="70" y="138" width="5" height="5" fill="#ff4500"/>
<rect x="96" y="138" width="1" height="4" fill="#ff4500"/>
<rect x="104" y="138" width="1" height="34" fill="#32cd32"/>
<rect x="102" y="138" width="5" height="15" fill="#32cd32"/>
<rect x="112" y="138" width="1" height="96" fill="#ff4500"/>
<rect x="110" y="138" width="5" height="14" fill="#ff4500"/>
<rect x="120" y="138" width="1" height="51" fill="#32cd32"/>
<rect x="118" y="138" width="5" height="11" fill="#32cd32"/>
<rect x="128" y="138" width="1" height="16" fill="#ff4500"/>
<rect x="126" y="138" width="5" height="10" fill="#ff4500"/>
<rect x="136" y="138" width="1" height="3" fill="#32cd32"/>
<rect x="144" y="138" width="1" height="6" fill="#32cd32"/>
<rect x="152" y="138" width="1" height="31" fill="#32cd32"/>
<rect x="150" y="138" width="5" height="28" fill="#32cd32"/>
<rect x="160" y="153" width="1" height="54" fill="#32cd32"/>
<rect x="158" y="166" width="5" height="26" fill="#32cd32"/>
<rect x="168" y="169" width="1" height="52" fill="#32cd32"/>
<rect x="166" y="192" width="5" height="7" fill="#32cd32"/>
<rect x="176" y="191" width="1" height="102" fill="#32cd32"/>
<rect x="174" y="198" width="5" height="72" fill="#32cd32"/>
<rect x="184" y="262" width="1" height="17" fill="#32cd32"/>
<rect x="182" y="270" width="5" height="5" fill="#32cd32"/>
<rect x="192" y="249" width="1" height="27" fill="#ff4500"/>
<rect x="190" y="251" width="5" height="25" fill="#ff4500"/>
<rect x="200" y="246" width="1" height="27" fill="#32cd32"/>
<rect x="198" y="250" width="5" height="4" fill="#32cd32"/>
<rect x="208" y="228" width="1" height="32" fill="#32cd32"/>
<rect x="206" y="252" width="5" height="8" fill="#32cd32"/>
<rect x="216" y="233" width="1" height="91" fill="#32cd32"/>
<rect x="214" y="256" width="5" height="63" fill="#32cd32"/>
<rect x="224" y="305" width="1" height="60" fill="#32cd32"/>
<rect x="222" y="319" width="5" height="5" fill="#32cd32"/>
<rect x="232" y="287" width="1" height="38" fill="#ff4500"/>
<rect x="230" y="288" width="5" height="36" fill="#ff4500"/>
<rect x="240" y="273" width="1" height="26" fill="#ff4500"/>
<rect x="238" y="276" width="5" height="9" fill="#ff4500"/>
<rect x="248" y="261" width="1" height="43" fill="#32cd32"/>
<rect x="246" y="275" width="5" height="23" fill="#32cd32"/>
<rect x="256" y="281" width="1" height="44" fill="#ff4500"/>
<rect x="254" y="288" width="5" height="10" fill="#ff4500"/>
<rect x="264" y="281" width="1" height="151" fill="#32cd32"/>
<rect x="262" y="290" width="5" height="125" fill="#32cd32"/>
<rect x="272" y="374" width="1" height="51" fill="#ff4500"/>
<rect x="270" y="395" width="5" height="22" fill="#ff4500"/>
<rect x="280" y="394" width="1" height="19" fill="#32cd32"/>
<rect x="278" y="394" width="5" height="13" fill="#32cd32"/>
<rect x="288" y="374" width="1" height="40" fill="#ff4500"/>
<rect x="286" y="381" width="5" height="31" fill="#ff4500"/>
<rect x="296" y="379" width="1" height="26" fill="#32cd32"/>
<rect x="294" y="380" width="5" height="15" fill="#32cd32"/>
<rect x="304" y="378" width="1" height="48" fill="#32cd32"/>
<rect x="302" y="395" width="5" height="13" fill="#32cd32"/>
<rect x="312" y="402" width="1" height="119" fill="#32cd32"/>
<rect x="310" y="408" width="5" height="44" fill="#32cd32"/>
<rect x="320" y="397" width="1" height="60" fill="#ff4500"/>
<rect x="318" y="419" width="5" height="34" fill="#ff4500"/>
<rect x="328" y="413" width="1" height="13" fill="#ff4500"/>
<rect x="326" y="416" width="5" height="3" fill="#ff4500"/>
<rect x="336" y="391" width="1" height="25" fill="#ff4500"/>
<rect x="334" y="396" width="5" height="20" fill="#ff4500"/>
<rect x="344" y="373" width="1" height="35" fill="#ff4500"/>
<rect x="342" y="378" width="5" height="18" fill="#ff4500"/>
<rect x="352" y="374" width="1" height="48" fill="#32cd32"/>
<rect x="350" y="380" width="5" height="15" fill="#32cd32"/>
<rect x="360" y="342" width="1" height="61" fill="#ff4500"/>
<rect x="358" y="384" width="5" height="12" fill="#ff4500"/>
<rect x="368" y="375" width="1" height="67" fill="#ff4500"/>
<rect x="366" y="379" width="5" height="4" fill="#ff4500"/>
<rect x="376" y="370" width="1" height="13" fill="#ff4500"/>
<rect x="374" y="372" width="5" height="7" fill="#ff4500"/>
<rect x="384" y="387" width="1" height="10" fill="#32cd32"/>
<rect x="382" y="389" width="5" height="8" fill="#32cd32"/>
<rect x="392" y="387" width="1" height="14" fill="#ff4500"/>
<rect x="390" y="392" width="5" height="4" fill="#ff4500"/>
<rect x="400" y="365" width="1" height="30" fill="#ff4500"/>
<rect x="398" y="371" width="5" height="23" fill="#ff4500"/>
<rect x="408" y="327" width="1" height="47" fill="#ff4500"/>
<rect x="406" y="332" width="5" height="39" fill="#ff4500"/>
<rect x="416" y="288" width="1" height="64" fill="#ff4500"/>
<rect x="414" y="318" width="5" height="16" fill="#ff4500"/>
<rect x="424" y="310" width="1" height="88" fill="#32cd32"/>
<rect x="422" y="319" width="5" height="57" fill="#32cd32"/>
<rect x="432" y="370" width="1" height="20" fill="#ff4500"/>
<rect x="430" y="373" width="5" height="4" fill="#ff4500"/>
<rect x="440" y="358" width="1" height="14" fill="#ff4500"/>
<rect x="438" y="363" width="5" height="7" fill="#ff4500"/>
<rect x="448" y="348" width="1" height="35" fill="#32cd32"/>
<rect x="446" y="364" width="5" height="17" fill="#32cd32"/>
<rect x="456" y="349" width="1" height="106" fill="#32cd32"/>
<rect x="454" y="379" width="5" height="67" fill="#32cd32"/>
<rect x="464" y="394" width="1" height="65" fill="#ff4500"/>
<rect x="462" y="421" width="5" height="26" fill="#ff4500"/>
<rect x="472" y="382" width="1" height="67" fill="#32cd32"/>
<rect x="470" y="422" width="5" height="5" fill="#32cd32"/>
<rect x="480" y="397" width="1" height="33" fill="#ff4500"/>
<rect x="478" y="414" width="5" height="10" fill="#ff4500"/>
<rect x="488" y="402" width="1" height="18" fill="#ff4500"/>
<rect x="486" y="411" width="5" height="3" fill="#ff4500"/>
<rect x="496" y="392" width="1" height="25" fill="#ff4500"/>
<rect x="494" y="406" width="5" height="7" fill="#ff4500"/>
<rect x="504" y="343" width="1" height="77" fill="#ff4500"/>
<rect x="502" y="353" width="5" height="54" fill="#ff4500"/>
<rect x="512" y="312" width="1" height="70" fill="#ff4500"/>
<rect x="510" y="330" width="5" height="25" fill="#ff4500"/>
<rect x="520" y="322" width="1" height="95" fill="#32cd32"/>
<rect x="518" y="331" width="5" height="64" fill="#32cd32"/>
<rect x="528" y="389" width="1" height="101" fill="#32cd32"/>
<rect x="526" y="396" width="5" height="34" fill="#32cd32"/>
<rect x="536" y="400" width="1" height="36" fill="#ff4500"/>
<rect x="534" y="406" width="5" height="25" fill="#ff4500"/>
<rect x="544" y="400" width="1" height="25" fill="#32cd32"/>
<rect x="542" y="407" width="5" height="13" fill="#32cd32"/>
<rect x="552" y="379" width="1" height="51" fill="#ff4500"/>
<rect x="550" y="381" width="5" height="40" fill="#ff4500"/>
<rect x="560" y="333" width="1" height="48" fill="#ff4500"/>
<rect x="558" y="348" width="5" height="33" fill="#ff4500"/>
<rect x="568" y="310" width="1" height="52" fill="#ff4500"/>
<rect x="566" y="317" width="5" height="33" fill="#ff4500"/>
<rect x="576" y="283" width="1" height="38" fill="#ff4500"/>
<rect x="574" y="299" width="5" height="20" fill="#ff4500"/>
<rect x="584" y="297" width="1" height="20" fill="#32cd32"/>
<rect x="582" y="298" width="5" height="8" fill="#32cd32"/>
<rect x="592" y="236" width="1" height="73" fill="#ff4500"/>
<rect x="590" y="246" width="5" height="61" fill="#ff4500"/>
<rect x="600" y="226" width="1" height="53" fill="#32cd32"/>
<rect x="598" y="246" width="5" height="20" fill="#32cd32"/>
<rect x="608" y="242" width="1" height="78" fill="#32cd32"/>
<rect x="606" y="264" width="5" height="12" fill="#32cd32"/>
<rect x="616" y="221" width="1" height="64" fill="#ff4500"/>
<rect x="614" y="239" width="5" height="37" fill="#ff4500"/>
<rect x="624" y="229" width="1" height="15" fill="#ff4500"/>
<rect x="622" y="230" width="5" height="11" fill="#ff4500"/>
<rect x="632" y="228" width="1" height="10" fill="#ff4500"/>
<rect x="630" y="231" width="5" height="7" fill="#ff4500"/>
<rect x="640" y="230" width="1" height="39" fill="#32cd32"/>
<rect x="638" y="230" width="5" height="29" fill="#32cd32"/>
<rect x="648" y="256" width="1" height="39" fill="#32cd32"/>
<rect x="646" y="259" width="5" height="33" fill="#32cd32"/>
<rect x="656" y="266" width="1" height="81" fill="#32cd32"/>
<rect x="654" y="291" width="5" height="33" fill="#32cd32"/>
<rect x="664" y="319" width="1" height="67" fill="#32cd32"/>
<rect x="662" y="322" width="5" height="21" fill="#32cd32"/>
<rect x="672" y="315" width="1" height="46" fill="#ff4500"/>
<rect x="670" y="331" width="5" height="12" fill="#ff4500"/>
<rect x="680" y="320" width="1" height="17" fill="#ff4500"/>
<rect x="678" y="326" width="5" height="5" fill="#ff4500"/>
<rect x="688" y="325" width="1" height="29" fill="#32cd32"/>
<rect x="686" y="327" width="5" height="24" fill="#32cd32"/>
<rect x="696" y="344" width="1" height="18" fill="#32cd32"/>
<rect x="694" y="349" width="5" height="2" fill="#32cd32"/>
<rect x="704" y="333" width="1" height="82" fill="#32cd32"/>
<rect x="702" y="349" width="5" height="7" fill="#32cd32"/>
<rect x="712" y="308" width="1" height="60" fill="#ff4500"/>
<rect x="710" y="334" width="5" height="22" fill="#ff4500"/>
<rect x="720" y="321" width="1" height="70" fill="#32cd32"/>
<rect x="718" y="333" width="5" height="43" fill="#32cd32"/>
<rect x="728" y="368" width="1" height="14" fill="#ff4500"/>
<rect x="726" y="369" width="5" height="6" fill="#ff4500"/>
<rect x="736" y="363" width="1" height="19" fill="#32cd32"/>
<rect x="734" y="370" width="5" height="5" fill="#32cd32"/>
<rect x="744" y="359" width="1" height="38" fill="#32cd32"/>
<rect x="742" y="373" width="5" height="15" fill="#32cd32"/>
<rect x="752" y="356" width="1" height="50" fill="#ff4500"/>
<rect x="750" y="367" width="5" height="20" fill="#ff4500"/>
<rect x="760" y="319" width="1" height="75" fill="#ff4500"/>
<rect x="758" y="334" width="5" height="33" fill="#ff4500"/>
<rect x="768" y="313" width="1" height="32" fill="#32cd32"/>
<rect x="766" y="335" width="5" height="6" fill="#32cd32"/>
<rect x="776" y="360" width="1" height="17" fill="#32cd32"/>
<rect x="774" y="368" width="5" height="7" fill="#32cd32"/>
<rect x="784" y="355" width="1" height="23" fill="#ff4500"/>
<rect x="782" y="364" width="5" height="10" fill="#ff4500"/>
<rect x="792" y="356" width="1" height="20" fill="#ff4500"/>
<rect x="790" y="360" width="5" height="6" fill="#ff4500"/>
<rect x="800" y="336" width="1" height="39" fill="#32cd32"/>
<rect x="798" y="359" width="5" height="3" fill="#32cd32"/>
<rect x="808" y="326" width="1" height="64" fill="#32cd32"/>
<rect x="806" y="361" width="5" height="5" fill="#32cd32"/>
<rect x="816" y="278" width="1" height="94" fill="#ff4500"/>
<rect x="814" y="285" width="5" height="81" fill="#ff4500"/>
<rect x="824" y="272" width="1" height="19" fill="#32cd32"/>
<rect x="822" y="286" width="5" height="5" fill="#32cd32"/>
<rect x="832" y="284" width="1" height="18" fill="#32cd32"/>
<rect x="830" y="289" width="5" height="9" fill="#32cd32"/>
<rect x="840" y="281" width="1" height="25" fill="#ff4500"/>
<rect x="838" y="284" width="5" height="15" fill="#ff4500"/>
<rect x="848" y="242" width="1" height="50" fill="#ff4500"/>
<rect x="846" y="247" width="5" height="38" fill="#ff4500"/>
<rect x="856" y="239" width="1" height="62" fill="#32cd32"/>
<rect x="854" y="246" width="5" height="49" fill="#32cd32"/>
<rect x="864" y="284" width="1" height="52" fill="#32cd32"/>
<rect x="862" y="293" width="5" height="13" fill="#32cd32"/>
<rect x="872" y="303" width="1" height="8" fill="#32cd32"/>
<rect x="870" y="304" width="5" height="4" fill="#32cd32"/>
<rect x="880" y="312" width="1" height="7" fill="#32cd32"/>
<rect x="878" y="314" width="5" height="3" fill="#32cd32"/>
<rect x="888" y="304" width="1" height="13" fill="#ff4500"/>
<rect x="886" y="309" width="5" height="8" fill="#ff4500"/>
<rect x="896" y="288" width="1" height="29" fill="#ff4500"/>
<rect x="894" y="295" width="5" height="16" fill="#ff4500"/>
<rect x="904" y="279" width="1" height="65" fill="#32cd32"/>
<rect x="902" y="294" width="5" height="22" fill="#32cd32"/>
<rect x="912" y="311" width="1" height="68" fill="#32cd32"/>
<rect x="910" y="316" width="5" height="38" fill="#32cd32"/>
<rect x="920" y="310" width="1" height="55" fill="#ff4500"/>
<rect x="918" y="317" width="5" height="39" fill="#ff4500"/>
<rect x="928" y="318" width="1" height="13" fill="#32cd32"/>
<rect x="926" y="318" width="5" height="8" fill="#32cd32"/>
<rect x="936" y="317" width="1" height="17" fill="#32cd32"/>
<rect x="934" y="326" width="5" height="4" fill="#32cd32"/>
<rect x="944" y="328" width="1" height="21" fill="#32cd32"/>
<rect x="942" y="330" width="5" height="9" fill="#32cd32"/>
<rect x="952" y="304" width="1" height="47" fill="#ff4500"/>
<rect x="950" y="313" width="5" height="27" fill="#ff4500"/>
<rect x="960" y="231" width="1" height="86" fill="#ff4500"/>
<rect x="958" y="264" width="5" height="49" fill="#ff4500"/>
<rect x="968" y="248" width="1" height="37" fill="#32cd32"/>
<rect x="966" y="263" width="5" height="2" fill="#32cd32"/>
<rect x="976" y="262" width="1" height="18" fill="#32cd32"/>
<rect x="974" y="265" width="5" height="12" fill="#32cd32"/>
<rect x="984" y="275" width="1" height="20" fill="#32cd32"/>
<rect x="982" y="275" width="5" height="15" fill="#32cd32"/>
<rect x="992" y="270" width="1" height="22" fill="#ff4500"/>
<rect x="990" y="272" width="5" height="20" fill="#ff4500"/>
<rect x="1000" y="265" width="1" height="44" fill="#32cd32"/>
<rect x="998" y="271" width="5" height="28" fill="#32cd32"/>
<rect x="1008" y="192" width="1" height="129" fill="#ff4500"/>
<rect x="1006" y="201" width="5" height="100" fill="#ff4500"/>
<rect x="1016" y="134" width="1" height="73" fill="#ff4500"/>
<rect x="1014" y="154" width="5" height="48" fill="#ff4500"/>
<rect x="1024" y="145" width="1" height="17" fill="#32cd32"/>
<rect x="1022" y="155" width="5" height="5" fill="#32cd32"/>
<rect x="1032" y="157" width="1" height="25" fill="#32cd32"/>
<rect x="1030" y="159" width="5" height="19" fill="#32cd32"/>
<rect x="1040" y="155" width="1" height="24" fill="#ff4500"/>
<rect x="1038" y="166" width="5" height="13" fill="#ff4500"/>
<rect x="1048" y="144" width="1" height="41" fill="#ff4500"/>
<rect x="1046" y="145" width="5" height="21" fill="#ff4500"/>
<rect x="1056" y="106" width="1" height="55" fill="#ff4500"/>
<rect x="1054" y="118" width="5" height="29" fill="#ff4500"/>
<rect x="1064" y="101" width="1" height="41" fill="#32cd32"/>
<rect x="1062" y="117" width="5" height="5" fill="#32cd32"/>
<rect x="1072" y="121" width="1" height="16" fill="#32cd32"/>
<rect x="1070" y="122" width="5" height="9" fill="#32cd32"/>
<rect x="1080" y="130" width="1" height="21" fill="#32cd32"/>
<rect x="1078" y="130" width="5" height="12" fill="#32cd32"/>
<rect x="1088" y="128" width="1" height="23" fill="#ff4500"/>
<rect x="1086" y="133" width="5" height="10" fill="#ff4500"/>
<rect x="1096" y="121" width="1" height="31" fill="#000"/>
<rect x="1094" y="134" width="5" height="1" fill="#000"/>
<rect x="1104" y="98" width="1" height="72" fill="#ff4500"/>
<rect x="1102" y="112" width="5" height="22" fill="#ff4500"/>
<rect x="1112" y="83" width="1" height="43" fill="#ff4500"/>
<rect x="1110" y="84" width="5" height="30" fill="#ff4500"/>
<rect x="1120" y="85" width="1" height="11" fill="#32cd32"/>
<rect x="1118" y="85" width="5" height="5" fill="#32cd32"/>
<rect x="1128" y="81" width="1" height="7" fill="#32cd32"/>
<rect x="1126" y="82" width="5" height="4" fill="#32cd32"/>
<rect x="1136" y="81" width="1" height="21" fill="#32cd32"/>
<rect x="1134" y="86" width="5" height="15" fill="#32cd32"/>
<rect x="1144" y="94" width="1" height="18" fill="#32cd32"/>
<rect x="1142" y="101" width="5" height="5" fill="#32cd32"/>
<rect x="1152" y="100" width="1" height="22" fill="#000"/>
<rect x="1150" y="105" width="5" height="1" fill="#000"/>
<rect x="1160" y="69" width="1" height="78" fill="#32cd32"/>
<rect x="1158" y="104" width="5" height="30" fill="#32cd32"/>
<rect x="1168" y="128" width="1" height="44" fill="#32cd32"/>
<rect x="1166" y="131" width="5" height="25" fill="#32cd32"/>
<rect x="1176" y="150" width="1" height="10" fill="#ff4500"/>
<rect x="1174" y="153" width="5" height="2" fill="#ff4500"/>
<rect x="1184" y="150" width="1" height="18" fill="#32cd32"/>
<rect x="1182" y="151" width="5" height="16" fill="#32cd32"/>
<rect x="1192" y="166" width="1" height="22" fill="#32cd32"/>
<rect x="1190" y="166" width="5" height="21" fill="#32cd32"/>
<rect x="1200" y="180" width="1" height="41" fill="#32cd32"/>
<rect x="1198" y="187" width="5" height="19" fill="#32cd32"/>
<rect x="1208" y="157" width="1" height="89" fill="#ff4500"/>
<rect x="1206" y="166" width="5" height="39" fill="#ff4500"/>
<rect x="1216" y="147" width="1" height="39" fill="#32cd32"/>
<rect x="1214" y="165" width="5" height="18" fill="#32cd32"/>
<rect x="1224" y="172" width="1" height="13" fill="#ff4500"/>
<rect x="1222" y="178" width="5" height="5" fill="#ff4500"/>
<rect x="1232" y="173" width="1" height="27" fill="#32cd32"/>
<rect x="1230" y="177" width="5" height="18" fill="#32cd32"/>
<rect x="1240" y="183" width="1" height="20" fill="#ff4500"/>
<rect x="1238" y="185" width="5" height="11" fill="#ff4500"/>
<rect x="1248" y="160" width="1" height="35" fill="#ff4500"/>
<rect x="1246" y="169" width="5" height="16" fill="#ff4500"/>
<rect x="1256" y="166" width="1" height="89" fill="#32cd32"/>
<rect x="1254" y="169" width="5" height="75" fill="#32cd32"/>
<rect x="1264" y="201" width="1" height="59" fill="#ff4500"/>
<rect x="1262" y="223" width="5" height="21" fill="#ff4500"/>
<rect x="1272" y="217" width="1" height="12" fill="#32cd32"/>
<rect x="1270" y="222" width="5" height="4" fill="#32cd32"/>
<rect x="1280" y="195" width="1" height="30" fill="#ff4500"/>
<rect x="1278" y="202" width="5" height="22" fill="#ff4500"/>
<rect x="1288" y="184" width="1" height="23" fill="#ff4500"/>
<rect x="1286" y="188" width="5" height="14" fill="#ff4500"/>
<rect x="1296" y="171" width="1" height="105" fill="#32cd32"/>
<rect x="1294" y="188" width="5" height="86" fill="#32cd32"/>
<rect x="1304" y="245" width="1" height="69" fill="#32cd32"/>
<rect x="1302" y="274" width="5" height="3" fill="#32cd32"/>
<rect x="1312" y="266" width="1" height="35" fill="#32cd32"/>
<rect x="1310" y="275" width="5" height="12" fill="#32cd32"/>
<rect x="1320" y="277" width="1" height="11" fill="#ff4500"/>
<rect x="1318" y="283" width="5" height="3" fill="#ff4500"/>
<rect x="0" y="39" width="1670" height="1" fill="#000"/>
<rect x="1669" y="39" width="1" height="687" fill="#000"/>
<rect x="0" y="532" width="1670" height="1" fill="#000"/>
<rect x="0" y="533" width="1670" height="1" fill="#fff"/>
<rect x="0" y="534" width="1670" height="1" fill="#000"/>
<rect x="0" y="596" width="1670" height="1" fill="#000"/>
<rect x="0" y="597" width="1670" height="1" fill="#fff"/>
<rect x="0" y="598" width="1670" height="1" fill="#000"/>
<rect x="0" y="725" width="1670" height="1" fill="#000"/>
<rect x="0" y="560" width="1" height="14" fill="#c0c0c0"/>
<rect x="8" y="560" width="1" height="17" fill="#c0c0c0"/>
<rect x="16" y="560" width="1" height="19" fill="#c0c0c0"/>
<rect x="24" y="560" width="1" height="19" fill="#c0c0c0"/>
<rect x="32" y="560" width="1" height="19" fill="#c0c0c0"/>
<rect x="40" y="560" width="1" height="19" fill="#c0c0c0"/>
<rect x="48" y="560" width="1" height="19" fill="#c0c0c0"/>
<rect x="56" y="560" width="1" height="19" fill="#c0c0c0"/>
<rect x="64" y="560" width="1" height="19" fill="#c0c0c0"/>
<rect x="72" y="560" width="1" height="19" fill="#c0c0c0"/>
<rect x="80" y="560" width="1" height="19" fill="#c0c0c0"/>
<rect x="88" y="560" width="1" height="18" fill="#c0c0c0"/>
<rect x="96" y="560" width="1" height="18" fill="#c0c0c0"/>
<rect x="104" y="560" width="1" height="18" fill="#c0c0c0"/>
<rect x="112" y="560" width="1" height="18" fill="#c0c0c0"/>
<rect x="120" y="560" width="1" height="18" fill="#c0c0c0"/>
<rect x="128" y="560" width="1" height="18" fill="#c0c0c0"/>
<rect x="136" y="560" width="1" height="18" fill="#c0c0c0"/>
<rect x="144" y="560" width="1" height="18" fill="#c0c0c0"/>
<rect x="152" y="560" width="1" height="18" fill="#c0c0c0"/>
<rect x="160" y="560" width="1" height="18" fill="#c0c0c0"/>
<rect x="168" y="560" width="1" height="19" fill="#c0c0c0"/>
<rect x="176" y="560" width="1" height="19" fill="#c0c0c0"/>
<rect x="184" y="560" width="1" height="19" fill="#c0c0c0"/>
<rect x="192" y="560" width="1" height="20" fill="#c0c0c0"/>
<rect x="200" y="560" width="1" height="21" fill="#c0c0c0"/>
<rect x="208" y="560" width="1" height="23" fill="#c0c0c0"/>
<rect x="216" y="560" width="1" height="24" fill="#c0c0c0"/>
<rect x="224" y="560" width="1" height="25" fill="#c0c0c0"/>
<rect x="232" y="560" width="1" height="26" fill="#c0c0c0"/>
<rect x="240" y="560" width="1" height="26" fill="#c0c0c0"/>
<rect x="248" y="560" width="1" height="27" fill="#c0c0c0"/>
<rect x="256" y="560" width="1" height="28" fill="#c0c0c0"/>
<rect x="264" y="560" width="1" height="28" fill="#c0c0c0"/>
<rect x="272" y="560" width="1" height="29" fill="#c0c0c0"/>
<rect x="280" y="560" width="1" height="30" fill="#c0c0c0"/>
<rect x="288" y="560" width="1" height="30" fill="#c0c0c0"/>
<rect x="296" y="560" width="1" height="31" fill="#c0c0c0"/>
<rect x="304" y="560" width="1" height="31" fill="#c0c0c0"/>
<rect x="312" y="560" width="1" height="32" fill="#c0c0c0"/>
<rect x="320" y="560" width="1" height="32" fill="#c0c0c0"/>
<rect x="328" y="560" width="1" height="32" fill="#c0c0c0"/>
<rect x="336" y="560" width="1" height="31" fill="#c0c0c0"/>
<rect x="344" y="560" width="1" height="30" fill="#c0c0c0"/>
<rect x="352" y="560" width="1" height="28" fill="#c0c0c0"/>
<rect x="360" y="560" width="1" height="26" fill="#c0c0c0"/>
<rect x="368" y="560" width="1" height="24" fill="#c0c0c0"/>
<rect x="376" y="560" width="1" height="21" fill="#c0c0c0"/>
<rect x="384" y="560" width="1" height="19" fill="#c0c0c0"/>
<rect x="392" y="560" width="1" height="17" fill="#c0c0c0"/>
<rect x="400" y="560" width="1" height="15" fill="#c0c0c0"/>
<rect x="408" y="560" width="1" height="12" fill="#c0c0c0"/>
<rect x="416" y="560" width="1" height="9" fill="#c0c0c0"/>
<rect x="424" y="560" width="1" height="9" fill="#c0c0c0"/>
<rect x="432" y="560" width="1" height="9" fill="#c0c0c0"/>
<rect x="440" y="560" width="1" height="9" fill="#c0c0c0"/>
<rect x="448" y="560" width="1" height="9" fill="#c0c0c0"/>
<rect x="456" y="560" width="1" height="9" fill="#c0c0c0"/>
<rect x="464" y="560" width="1" height="11" fill="#c0c0c0"/>
<rect x="472" y="560" width="1" height="11" fill="#c0c0c0"/>
<rect x="480" y="560" width="1" height="11" fill="#c0c0c0"/>
<rect x="488" y="560" width="1" height="11" fill="#c0c0c0"/>
<rect x="496" y="560" width="1" height="9" fill="#c0c0c0"/>
<rect x="504" y="560" width="1" height="9" fill="#c0c0c0"/>
<rect x="512" y="560" width="1" height="6" fill="#c0c0c0"/>
<rect x="520" y="560" width="1" height="6" fill="#c0c0c0"/>
<rect x="528" y="560" width="1" height="7" fill="#c0c0c0"/>
<rect x="536" y="560" width="1" height="8" fill="#c0c0c0"/>
<rect x="544" y="560" width="1" height="8" fill="#c0c0c0"/>
<rect x="552" y="560" width="1" height="7" fill="#c0c0c0"/>
<rect x="560" y="560" width="1" height="5" fill="#c0c0c0"/>
<rect x="568" y="560" width="1" height="3" fill="#c0c0c0"/>
<rect x="584" y="558" width="1" height="3" fill="#c0c0c0"/>
<rect x="592" y="554" width="1" height="7" fill="#c0c0c0"/>
<rect x="600" y="552" width="1" height="9" fill="#c0c0c0"/>
<rect x="608" y="551" width="1" height="10" fill="#c0c0c0"/>
<rect x="616" y="548" width="1" height="13" fill="#c0c0c0"/>
<rect x="624" y="547" width="1" height="14" fill="#c0c0c0"/>
<rect x="632" y="546" width="1" height="15" fill="#c0c0c0"/>
<rect x="640" y="546" width="1" height="15" fill="#c0c0c0"/>
<rect x="648" y="547" width="1" height="14" fill="#c0c0c0"/>
<rect x="656" y="548" width="1" height="13" fill="#c0c0c0"/>
<rect x="664" y="552" width="1" height="9" fill="#c0c0c0"/>
<rect x="672" y="554" width="1" height="7" fill="#c0c0c0"/>
<rect x="680" y="555" width="1" height="6" fill="#c0c0c0"/>
<rect x="688" y="557" width="1" height="4" fill="#c0c0c0"/>
<rect x="696" y="559" width="1" height="2" fill="#c0c0c0"/>
<rect x="720" y="560" width="1" height="2" fill="#c0c0c0"/>
<rect x="728" y="560" width="1" height="3" fill="#c0c0c0"/>
<rect x="736" y="560" width="1" height="4" fill="#c0c0c0"/>
<rect x="744" y="560" width="1" height="5" fill="#c0c0c0"/>
<rect x="752" y="560" width="1" height="5" fill="#c0c0c0"/>
<rect x="760" y="560" width="1" height="5" fill="#c0c0c0"/>
<rect x="768" y="560" width="1" height="5" fill="#c0c0c0"/>
<rect x="776" y="560" width="1" height="5" fill="#c0c0c0"/>
<rect x="784" y="560" width="1" height="5" fill="#c0c0c0"/>
<rect x="792" y="560" width="1" height="5" fill="#c0c0c0"/>
<rect x="800" y="560" width="1" height="5" fill="#c0c0c0"/>
<rect x="808" y="560" width="1" height="5" fill="#c0c0c0"/>
<rect x="816" y="560" width="1" height="3" fill="#c0c0c0"/>
<rect x="824" y="560" width="1" height="2" fill="#c0c0c0"/>
<rect x="840" y="557" width="1" height="4" fill="#c0c0c0"/>
<rect x="848" y="555" width="1" height="6" fill="#c0c0c0"/>
<rect x="856" y="555" width="1" height="6" fill="#c0c0c0"/>
<rect x="864" y="555" width="1" height="6" fill="#c0c0c0"/>
<rect x="872" y="555" width="1" height="6" fill="#c0c0c0"/>
<rect x="880" y="556" width="1" height="5" fill="#c0c0c0"/>
<rect x="888" y="557" width="1" height="4" fill="#c0c0c0"/>
<rect x="896" y="558" width="1" height="3" fill="#c0c0c0"/>
<rect x="904" y="559" width="1" height="2" fill="#c0c0c0"/>
<rect x="936" y="559" width="1" height="2" fill="#c0c0c0"/>
<rect x="944" y="558" width="1" height="3" fill="#c0c0c0"/>
<rect x="952" y="557" width="1" height="4" fill="#c0c0c0"/>
<rect x="960" y="556" width="1" height="5" fill="#c0c0c0"/>
<rect x="968" y="556" width="1" height="5" fill="#c0c0c0"/>
<rect x="976" y="556" width="1" height="5" fill="#c0c0c0"/>
<rect x="984" y="556" width="1" height="5" fill="#c0c0c0"/>
<rect x="992" y="556" width="1" height="5" fill="#c0c0c0"/>
<rect x="1000" y="556" width="1" height="5" fill="#c0c0c0"/>
<rect x="1008" y="554" width="1" height="7" fill="#c0c0c0"/>
<rect x="1016" y="550" width="1" height="11" fill="#c0c0c0"/>
<rect x="1024" y="547" width="1" height="14" fill="#c0c0c0"/>
<rect x="1032" y="546" width="1" height="15" fill="#c0c0c0"/>
<rect x="1040" y="544" width="1" height="17" fill="#c0c0c0"/>
<rect x="1048" y="543" width="1" height="18" fill="#c0c0c0"/>
<rect x="1056" y="541" width="1" height="20" fill="#c0c0c0"/>
<rect x="1064" y="540" width="1" height="21" fill="#c0c0c0"/>
<rect x="1072" y="539" width="1" height="22" fill="#c0c0c0"/>
<rect x="1080" y="540" width="1" height="21" fill="#c0c0c0"/>
<rect x="1088" y="540" width="1" height="21" fill="#c0c0c0"/>
<rect x="1096" y="540" width="1" height="21" fill="#c0c0c0"/>
<rect x="1104" y="540" width="1" height="21" fill="#c0c0c0"/>
<rect x="1112" y="540" width="1" height="21" fill="#c0c0c0"/>
<rect x="1120" y="540" width="1" height="21" fill="#c0c0c0"/>
<rect x="1128" y="540" width="1" height="21" fill="#c0c0c0"/>
<rect x="1136" y="540" width="1" height="21" fill="#c0c0c0"/>
<rect x="1144" y="540" width="1" height="21" fill="#c0c0c0"/>
<rect x="1152" y="541" width="1" height="20" fill="#c0c0c0"/>
<rect x="1160" y="542" width="1" height="19" fill="#c0c0c0"/>
<rect x="1168" y="545" width="1" height="16" fill="#c0c0c0"/>
<rect x="1176" y="548" width="1" height="13" fill="#c0c0c0"/>
<rect x="1184" y="550" width="1" height="11" fill="#c0c0c0"/>
<rect x="1192" y="552" width="1" height="9" fill="#c0c0c0"/>
<rect x="1200" y="555" width="1" height="6" fill="#c0c0c0"/>
<rect x="1208" y="557" width="1" height="4" fill="#c0c0c0"/>
<rect x="1216" y="558" width="1" height="3" fill="#c0c0c0"/>
<rect x="1224" y="558" width="1" height="3" fill="#c0c0c0"/>
<rect x="1256" y="560" width="1" height="3" fill="#c0c0c0"/>
<rect x="1264" y="560" width="1" height="4" fill="#c0c0c0"/>
<rect x="1272" y="560" width="1" height="5" fill="#c0c0c0"/>
<rect x="1280" y="560" width="1" height="5" fill="#c0c0c0"/>
<rect x="1288" y="560" width="1" height="5" fill="#c0c0c0"/>
<rect x="1296" y="560" width="1" height="7" fill="#c0c0c0"/>
<rect x="1304" y="560" width="1" height="9" fill="#c0c0c0"/>
<rect x="1312" y="560" width="1" height="11" fill="#c0c0c0"/>
<rect x="1320" y="560" width="1" height="12" fill="#c0c0c0"/>
<path d="M1110 539h3v1h-3zM1116 539h3v1h-3zM1122 539h3v1h-3zM1128 539h3v1h-3zM1134 539h3v1h-3zM1140 539h3v1h-3zM1146 539h3v1h-3zM1152 539h3v1h-3zM1158 539h3v1h-3zM1164 539h2v1h-2zM1098 540h3v1h-3zM1104 540h3v1h-3zM1166 540h1v1h-1zM1086 541h3v1h-3zM1092 541h3v1h-3zM1170 541h3v1h-3zM1080 542h3v1h-3zM1176 542h3v1h-3zM1182 542h3v1h-3zM1074 543h3v1h-3zM1188 543h3v1h-3zM1069 544h2v1h-2zM1194 544h3v1h-3zM1068 545h1v1h-1zM1200 545h3v1h-3zM1062 546h3v1h-3zM1206 546h3v1h-3zM1058 547h1v1h-1zM1212 547h1v1h-1zM654 548h3v1h-3zM660 548h3v1h-3zM666 548h3v1h-3zM672 548h3v1h-3zM678 548h3v1h-3zM684 548h2v1h-2zM1056 548h2v1h-2zM1213 548h2v1h-2zM643 549h2v1h-2zM648 549h3v1h-3zM686 549h1v1h-1zM1050 549h3v1h-3zM1218 549h2v1h-2zM642 550h1v1h-1zM690 550h3v1h-3zM1046 550h1v1h-1zM1220 550h1v1h-1zM636 551h3v1h-3zM696 551h3v1h-3zM1044 551h2v1h-2zM1224 551h3v1h-3zM631 552h2v1h-2zM702 552h3v1h-3zM708 552h1v1h-1zM1038 552h3v1h-3zM1230 552h2v1h-2zM630 553h1v1h-1zM709 553h2v1h-2zM1032 553h3v1h-3zM1232 553h1v1h-1zM1236 553h1v1h-1zM625 554h2v1h-2zM714 554h3v1h-3zM1026 554h3v1h-3zM1237 554h2v1h-2zM1242 554h2v1h-2zM624 555h1v1h-1zM720 555h1v1h-1zM907 555h2v1h-2zM912 555h3v1h-3zM918 555h3v1h-3zM924 555h2v1h-2zM1020 555h3v1h-3zM1244 555h1v1h-1zM1248 555h2v1h-2zM619 556h2v1h-2zM721 556h2v1h-2zM883 556h2v1h-2zM888 556h3v1h-3zM894 556h3v1h-3zM900 556h3v1h-3zM906 556h1v1h-1zM926 556h1v1h-1zM1008 556h3v1h-3zM1014 556h3v1h-3zM1250 556h1v1h-1zM1254 556h3v1h-3zM618 557h1v1h-1zM726 557h3v1h-3zM871 557h2v1h-2zM876 557h3v1h-3zM882 557h1v1h-1zM930 557h3v1h-3zM936 557h3v1h-3zM996 557h3v1h-3zM1002 557h3v1h-3zM1260 557h2v1h-2zM612 558h3v1h-3zM732 558h3v1h-3zM864 558h3v1h-3zM870 558h1v1h-1zM942 558h3v1h-3zM948 558h3v1h-3zM954 558h3v1h-3zM960 558h2v1h-2zM984 558h3v1h-3zM990 558h3v1h-3zM1262 558h1v1h-1zM606 559h3v1h-3zM738 559h3v1h-3zM858 559h3v1h-3zM962 559h1v1h-1zM966 559h3v1h-3zM972 559h3v1h-3zM978 559h3v1h-3zM1266 559h3v1h-3zM601 560h2v1h-2zM744 560h3v1h-3zM852 560h3v1h-3zM600 561h1v1h-1zM750 561h3v1h-3zM756 561h2v1h-2zM846 561h3v1h-3zM1272 561h3v1h-3zM1278 561h3v1h-3zM1284 561h1v1h-1zM594 562h3v1h-3zM758 562h1v1h-1zM762 562h3v1h-3zM836 562h1v1h-1zM840 562h3v1h-3zM1285 562h2v1h-2zM1290 562h3v1h-3zM1296 562h3v1h-3zM589 563h2v1h-2zM768 563h3v1h-3zM774 563h3v1h-3zM824 563h1v1h-1zM828 563h3v1h-3zM834 563h2v1h-2zM1302 563h3v1h-3zM1308 563h1v1h-1zM584 564h1v1h-1zM588 564h1v1h-1zM780 564h3v1h-3zM786 564h3v1h-3zM792 564h3v1h-3zM798 564h3v1h-3zM804 564h3v1h-3zM810 564h3v1h-3zM816 564h3v1h-3zM822 564h2v1h-2zM1309 564h2v1h-2zM1314 564h1v1h-1zM576 565h3v1h-3zM582 565h2v1h-2zM1315 565h2v1h-2zM564 566h3v1h-3zM570 566h3v1h-3zM0 567h2v1h-2zM546 567h3v1h-3zM552 567h3v1h-3zM558 567h3v1h-3zM2 568h1v1h-1zM530 568h1v1h-1zM534 568h3v1h-3zM540 568h3v1h-3zM6 569h3v1h-3zM476 569h1v1h-1zM480 569h3v1h-3zM486 569h3v1h-3zM492 569h3v1h-3zM498 569h3v1h-3zM504 569h3v1h-3zM510 569h3v1h-3zM516 569h3v1h-3zM522 569h3v1h-3zM528 569h2v1h-2zM12 570h3v1h-3zM464 570h1v1h-1zM468 570h3v1h-3zM474 570h2v1h-2zM18 571h3v1h-3zM456 571h3v1h-3zM462 571h2v1h-2zM24 572h3v1h-3zM446 572h1v1h-1zM450 572h3v1h-3zM30 573h1v1h-1zM444 573h2v1h-2zM31 574h2v1h-2zM438 574h3v1h-3zM36 575h3v1h-3zM434 575h1v1h-1zM42 576h1v1h-1zM158 576h1v1h-1zM162 576h3v1h-3zM168 576h3v1h-3zM174 576h3v1h-3zM428 576h1v1h-1zM432 576h2v1h-2zM43 577h2v1h-2zM48 577h3v1h-3zM144 577h3v1h-3zM150 577h3v1h-3zM156 577h2v1h-2zM180 577h3v1h-3zM186 577h3v1h-3zM192 577h1v1h-1zM420 577h3v1h-3zM426 577h2v1h-2zM54 578h3v1h-3zM60 578h3v1h-3zM66 578h2v1h-2zM120 578h3v1h-3zM126 578h3v1h-3zM132 578h3v1h-3zM138 578h3v1h-3zM193 578h2v1h-2zM198 578h3v1h-3zM204 578h1v1h-1zM414 578h3v1h-3zM68 579h1v1h-1zM72 579h3v1h-3zM78 579h3v1h-3zM84 579h3v1h-3zM90 579h3v1h-3zM96 579h3v1h-3zM102 579h3v1h-3zM108 579h3v1h-3zM114 579h3v1h-3zM205 579h2v1h-2zM210 579h3v1h-3zM410 579h1v1h-1zM216 580h3v1h-3zM408 580h2v1h-2zM222 581h3v1h-3zM228 581h2v1h-2zM402 581h3v1h-3zM230 582h1v1h-1zM234 582h3v1h-3zM398 582h1v1h-1zM240 583h3v1h-3zM396 583h2v1h-2zM246 584h3v1h-3zM252 584h3v1h-3zM258 584h3v1h-3zM390 584h3v1h-3zM264 585h3v1h-3zM270 585h3v1h-3zM276 585h3v1h-3zM384 585h3v1h-3zM282 586h3v1h-3zM378 586h3v1h-3zM288 587h3v1h-3zM294 587h2v1h-2zM372 587h3v1h-3zM296 588h1v1h-1zM300 588h3v1h-3zM306 588h1v1h-1zM366 588h3v1h-3zM307 589h2v1h-2zM312 589h3v1h-3zM318 589h1v1h-1zM355 589h2v1h-2zM360 589h3v1h-3zM319 590h2v1h-2zM324 590h3v1h-3zM330 590h3v1h-3zM336 590h3v1h-3zM342 590h3v1h-3zM348 590h3v1h-3zM354 590h1v1h-1z" fill="#ff0000"/>
<line x1="1" y1="636.5" x2="1669" y2="636.5" stroke="#c0c0c0" stroke-width="1" stroke-dasharray="3 3"/>
<line x1="1" y1="687.5" x2="1669" y2="687.5" stroke="#c0c0c0" stroke-width="1" stroke-dasharray="3 3"/>
<path d="M1112 633h2v1h-2zM1110 634h2v1h-2zM1114 634h4v1h-4zM1125 634h4v1h-4zM1055 635h5v1h-5zM1108 635h2v1h-2zM1118 635h7v1h-7zM1129 635h1v1h-1zM1016 636h2v1h-2zM1053 636h2v1h-2zM1060 636h6v1h-6zM1106 636h2v1h-2zM1130 636h2v1h-2zM1014 637h2v1h-2zM1018 637h4v1h-4zM1050 637h3v1h-3zM1066 637h2v1h-2zM1104 637h2v1h-2zM1132 637h1v1h-1zM1013 638h1v1h-1zM1022 638h3v1h-3zM1047 638h3v1h-3zM1068 638h3v1h-3zM1102 638h2v1h-2zM1133 638h1v1h-1zM1011 639h2v1h-2zM1025 639h2v1h-2zM1045 639h2v1h-2zM1071 639h3v1h-3zM1100 639h2v1h-2zM1134 639h2v1h-2zM1009 640h2v1h-2zM1027 640h2v1h-2zM1042 640h3v1h-3zM1074 640h2v1h-2zM1087 640h5v1h-5zM1098 640h2v1h-2zM1136 640h2v1h-2zM1008 641h1v1h-1zM1029 641h2v1h-2zM1037 641h5v1h-5zM1076 641h3v1h-3zM1083 641h4v1h-4zM1092 641h6v1h-6zM1138 641h4v1h-4zM592 642h1v1h-1zM621 642h12v1h-12zM848 642h1v1h-1zM1008 642h1v1h-1zM1031 642h6v1h-6zM1079 642h4v1h-4zM1142 642h11v1h-11zM591 643h1v1h-1zM593 643h2v1h-2zM616 643h5v1h-5zM633 643h1v1h-1zM847 643h1v1h-1zM849 643h1v1h-1zM1007 643h1v1h-1zM1153 643h1v1h-1zM590 644h1v1h-1zM595 644h2v1h-2zM614 644h2v1h-2zM634 644h1v1h-1zM845 644h2v1h-2zM849 644h1v1h-1zM1007 644h1v1h-1zM1154 644h1v1h-1zM589 645h1v1h-1zM597 645h2v1h-2zM613 645h1v1h-1zM635 645h1v1h-1zM844 645h1v1h-1zM850 645h1v1h-1zM1006 645h1v1h-1zM1154 645h1v1h-1zM588 646h1v1h-1zM599 646h3v1h-3zM611 646h2v1h-2zM636 646h2v1h-2zM843 646h1v1h-1zM850 646h1v1h-1zM1006 646h1v1h-1zM1155 646h1v1h-1zM587 647h1v1h-1zM602 647h4v1h-4zM609 647h2v1h-2zM638 647h1v1h-1zM841 647h2v1h-2zM851 647h1v1h-1zM1005 647h1v1h-1zM1156 647h1v1h-1zM576 648h2v1h-2zM586 648h1v1h-1zM606 648h3v1h-3zM639 648h1v1h-1zM816 648h4v1h-4zM839 648h2v1h-2zM852 648h1v1h-1zM1005 648h1v1h-1zM1157 648h1v1h-1zM574 649h2v1h-2zM578 649h4v1h-4zM585 649h1v1h-1zM640 649h1v1h-1zM816 649h1v1h-1zM820 649h6v1h-6zM837 649h2v1h-2zM852 649h1v1h-1zM960 649h10v1h-10zM1004 649h1v1h-1zM1158 649h1v1h-1zM572 650h2v1h-2zM582 650h3v1h-3zM641 650h1v1h-1zM815 650h1v1h-1zM826 650h4v1h-4zM834 650h3v1h-3zM853 650h1v1h-1zM959 650h1v1h-1zM970 650h2v1h-2zM1004 650h1v1h-1zM1158 650h1v1h-1zM570 651h2v1h-2zM642 651h1v1h-1zM815 651h1v1h-1zM830 651h4v1h-4zM854 651h1v1h-1zM958 651h1v1h-1zM972 651h3v1h-3zM1004 651h1v1h-1zM1159 651h1v1h-1zM568 652h2v1h-2zM643 652h1v1h-1zM814 652h1v1h-1zM854 652h1v1h-1zM958 652h1v1h-1zM975 652h2v1h-2zM992 652h1v1h-1zM1003 652h1v1h-1zM1160 652h1v1h-1zM512 653h1v1h-1zM566 653h2v1h-2zM644 653h1v1h-1zM814 653h1v1h-1zM855 653h1v1h-1zM957 653h1v1h-1zM977 653h2v1h-2zM990 653h2v1h-2zM993 653h1v1h-1zM1003 653h1v1h-1zM1161 653h1v1h-1zM510 654h2v1h-2zM513 654h1v1h-1zM564 654h2v1h-2zM645 654h1v1h-1zM813 654h1v1h-1zM855 654h1v1h-1zM956 654h1v1h-1zM979 654h2v1h-2zM988 654h2v1h-2zM994 654h1v1h-1zM1002 654h1v1h-1zM1162 654h1v1h-1zM508 655h2v1h-2zM513 655h1v1h-1zM562 655h2v1h-2zM646 655h1v1h-1zM813 655h1v1h-1zM856 655h2v1h-2zM895 655h2v1h-2zM955 655h1v1h-1zM981 655h2v1h-2zM986 655h2v1h-2zM995 655h1v1h-1zM1002 655h1v1h-1zM1163 655h1v1h-1zM415 656h2v1h-2zM506 656h2v1h-2zM514 656h1v1h-1zM560 656h2v1h-2zM647 656h1v1h-1zM813 656h1v1h-1zM858 656h4v1h-4zM893 656h2v1h-2zM897 656h1v1h-1zM954 656h1v1h-1zM983 656h3v1h-3zM996 656h2v1h-2zM1001 656h1v1h-1zM1164 656h2v1h-2zM413 657h2v1h-2zM417 657h1v1h-1zM504 657h2v1h-2zM514 657h1v1h-1zM558 657h2v1h-2zM648 657h1v1h-1zM812 657h1v1h-1zM862 657h6v1h-6zM890 657h3v1h-3zM898 657h2v1h-2zM954 657h1v1h-1zM998 657h1v1h-1zM1001 657h1v1h-1zM1166 657h1v1h-1zM410 658h3v1h-3zM417 658h1v1h-1zM503 658h1v1h-1zM515 658h1v1h-1zM557 658h1v1h-1zM649 658h1v1h-1zM812 658h1v1h-1zM868 658h6v1h-6zM887 658h3v1h-3zM900 658h1v1h-1zM953 658h1v1h-1zM999 658h2v1h-2zM1167 658h1v1h-1zM408 659h2v1h-2zM418 659h1v1h-1zM503 659h1v1h-1zM516 659h1v1h-1zM555 659h2v1h-2zM650 659h2v1h-2zM811 659h1v1h-1zM874 659h4v1h-4zM883 659h4v1h-4zM901 659h1v1h-1zM952 659h1v1h-1zM1000 659h1v1h-1zM1168 659h9v1h-9zM407 660h1v1h-1zM419 660h1v1h-1zM502 660h1v1h-1zM516 660h1v1h-1zM553 660h2v1h-2zM652 660h1v1h-1zM760 660h4v1h-4zM811 660h1v1h-1zM878 660h5v1h-5zM902 660h2v1h-2zM951 660h1v1h-1zM1177 660h2v1h-2zM406 661h1v1h-1zM419 661h1v1h-1zM502 661h1v1h-1zM517 661h1v1h-1zM552 661h1v1h-1zM653 661h1v1h-1zM759 661h1v1h-1zM764 661h5v1h-5zM811 661h1v1h-1zM904 661h1v1h-1zM920 661h4v1h-4zM950 661h1v1h-1zM1179 661h2v1h-2zM1208 661h1v1h-1zM1248 661h1v1h-1zM405 662h1v1h-1zM420 662h1v1h-1zM501 662h1v1h-1zM518 662h1v1h-1zM551 662h1v1h-1zM654 662h2v1h-2zM758 662h1v1h-1zM769 662h1v1h-1zM810 662h1v1h-1zM905 662h1v1h-1zM919 662h1v1h-1zM924 662h6v1h-6zM949 662h1v1h-1zM1181 662h2v1h-2zM1207 662h1v1h-1zM1209 662h2v1h-2zM1246 662h3v1h-3zM1288 662h1v1h-1zM404 663h1v1h-1zM421 663h1v1h-1zM500 663h1v1h-1zM518 663h1v1h-1zM550 663h1v1h-1zM656 663h2v1h-2zM677 663h4v1h-4zM712 663h1v1h-1zM757 663h1v1h-1zM770 663h1v1h-1zM810 663h1v1h-1zM906 663h1v1h-1zM918 663h1v1h-1zM930 663h4v1h-4zM947 663h2v1h-2zM1183 663h2v1h-2zM1207 663h1v1h-1zM1211 663h1v1h-1zM1245 663h1v1h-1zM1249 663h1v1h-1zM1286 663h3v1h-3zM404 664h1v1h-1zM421 664h1v1h-1zM500 664h1v1h-1zM519 664h1v1h-1zM549 664h1v1h-1zM658 664h2v1h-2zM671 664h6v1h-6zM681 664h2v1h-2zM711 664h1v1h-1zM713 664h1v1h-1zM756 664h1v1h-1zM771 664h1v1h-1zM809 664h1v1h-1zM907 664h1v1h-1zM917 664h1v1h-1zM934 664h4v1h-4zM946 664h1v1h-1zM1185 664h1v1h-1zM1206 664h1v1h-1zM1212 664h2v1h-2zM1243 664h2v1h-2zM1249 664h1v1h-1zM1284 664h2v1h-2zM1289 664h1v1h-1zM403 665h1v1h-1zM422 665h1v1h-1zM439 665h2v1h-2zM499 665h1v1h-1zM519 665h1v1h-1zM548 665h1v1h-1zM660 665h3v1h-3zM667 665h4v1h-4zM683 665h1v1h-1zM709 665h2v1h-2zM714 665h1v1h-1zM755 665h1v1h-1zM772 665h1v1h-1zM789 665h7v1h-7zM809 665h1v1h-1zM908 665h1v1h-1zM916 665h1v1h-1zM938 665h4v1h-4zM945 665h1v1h-1zM1186 665h2v1h-2zM1205 665h1v1h-1zM1214 665h2v1h-2zM1221 665h5v1h-5zM1241 665h2v1h-2zM1250 665h1v1h-1zM1282 665h2v1h-2zM1289 665h1v1h-1zM402 666h1v1h-1zM423 666h1v1h-1zM437 666h2v1h-2zM441 666h2v1h-2zM498 666h1v1h-1zM520 666h1v1h-1zM547 666h1v1h-1zM663 666h4v1h-4zM684 666h2v1h-2zM708 666h1v1h-1zM715 666h1v1h-1zM754 666h1v1h-1zM773 666h1v1h-1zM783 666h6v1h-6zM796 666h8v1h-8zM808 666h1v1h-1zM908 666h1v1h-1zM916 666h1v1h-1zM942 666h3v1h-3zM1188 666h1v1h-1zM1205 666h1v1h-1zM1216 666h5v1h-5zM1226 666h2v1h-2zM1239 666h2v1h-2zM1250 666h1v1h-1zM1280 666h2v1h-2zM1290 666h1v1h-1zM401 667h1v1h-1zM423 667h1v1h-1zM434 667h3v1h-3zM443 667h2v1h-2zM498 667h1v1h-1zM521 667h1v1h-1zM536 667h2v1h-2zM546 667h1v1h-1zM686 667h2v1h-2zM707 667h1v1h-1zM716 667h1v1h-1zM753 667h1v1h-1zM774 667h1v1h-1zM781 667h2v1h-2zM804 667h5v1h-5zM909 667h1v1h-1zM915 667h1v1h-1zM1189 667h1v1h-1zM1204 667h1v1h-1zM1228 667h3v1h-3zM1235 667h4v1h-4zM1251 667h1v1h-1zM1279 667h1v1h-1zM1290 667h1v1h-1zM400 668h1v1h-1zM424 668h10v1h-10zM445 668h2v1h-2zM497 668h1v1h-1zM522 668h2v1h-2zM534 668h2v1h-2zM538 668h4v1h-4zM545 668h1v1h-1zM688 668h12v1h-12zM705 668h2v1h-2zM716 668h1v1h-1zM752 668h1v1h-1zM775 668h1v1h-1zM778 668h3v1h-3zM910 668h1v1h-1zM914 668h1v1h-1zM1190 668h2v1h-2zM1203 668h1v1h-1zM1231 668h4v1h-4zM1251 668h1v1h-1zM1277 668h2v1h-2zM1291 668h1v1h-1zM399 669h1v1h-1zM447 669h2v1h-2zM497 669h1v1h-1zM524 669h1v1h-1zM533 669h1v1h-1zM542 669h3v1h-3zM700 669h5v1h-5zM717 669h1v1h-1zM751 669h1v1h-1zM776 669h2v1h-2zM911 669h1v1h-1zM913 669h1v1h-1zM1192 669h1v1h-1zM1203 669h1v1h-1zM1252 669h1v1h-1zM1276 669h1v1h-1zM1291 669h1v1h-1zM397 670h2v1h-2zM449 670h1v1h-1zM493 670h4v1h-4zM525 670h1v1h-1zM531 670h2v1h-2zM718 670h1v1h-1zM727 670h5v1h-5zM749 670h2v1h-2zM912 670h1v1h-1zM1193 670h2v1h-2zM1202 670h1v1h-1zM1252 670h1v1h-1zM1275 670h1v1h-1zM1292 670h1v1h-1zM375 671h2v1h-2zM396 671h1v1h-1zM449 671h1v1h-1zM485 671h8v1h-8zM526 671h2v1h-2zM529 671h2v1h-2zM719 671h1v1h-1zM723 671h4v1h-4zM732 671h6v1h-6zM748 671h1v1h-1zM1195 671h2v1h-2zM1201 671h1v1h-1zM1253 671h1v1h-1zM1273 671h2v1h-2zM1292 671h1v1h-1zM72 672h2v1h-2zM371 672h4v1h-4zM377 672h2v1h-2zM395 672h1v1h-1zM450 672h1v1h-1zM479 672h6v1h-6zM528 672h1v1h-1zM720 672h3v1h-3zM738 672h2v1h-2zM747 672h1v1h-1zM1197 672h2v1h-2zM1201 672h1v1h-1zM1253 672h1v1h-1zM1264 672h9v1h-9zM1293 672h1v1h-1zM71 673h1v1h-1zM74 673h2v1h-2zM128 673h17v1h-17zM365 673h6v1h-6zM379 673h2v1h-2zM393 673h2v1h-2zM451 673h1v1h-1zM477 673h2v1h-2zM740 673h3v1h-3zM745 673h2v1h-2zM1199 673h2v1h-2zM1254 673h1v1h-1zM1263 673h1v1h-1zM1293 673h1v1h-1zM71 674h1v1h-1zM76 674h3v1h-3zM96 674h1v1h-1zM112 674h2v1h-2zM126 674h2v1h-2zM145 674h1v1h-1zM344 674h2v1h-2zM359 674h6v1h-6zM381 674h2v1h-2zM389 674h4v1h-4zM452 674h1v1h-1zM464 674h4v1h-4zM474 674h3v1h-3zM743 674h2v1h-2zM1254 674h1v1h-1zM1261 674h2v1h-2zM1294 674h1v1h-1zM70 675h1v1h-1zM79 675h3v1h-3zM94 675h2v1h-2zM97 675h2v1h-2zM110 675h2v1h-2zM114 675h2v1h-2zM124 675h2v1h-2zM146 675h2v1h-2zM342 675h2v1h-2zM346 675h2v1h-2zM357 675h2v1h-2zM383 675h6v1h-6zM452 675h1v1h-1zM463 675h1v1h-1zM468 675h6v1h-6zM1255 675h1v1h-1zM1260 675h1v1h-1zM1294 675h1v1h-1zM56 676h1v1h-1zM69 676h1v1h-1zM82 676h2v1h-2zM92 676h2v1h-2zM99 676h1v1h-1zM109 676h1v1h-1zM116 676h3v1h-3zM122 676h2v1h-2zM148 676h1v1h-1zM340 676h2v1h-2zM348 676h3v1h-3zM354 676h3v1h-3zM453 676h1v1h-1zM461 676h2v1h-2zM1255 676h1v1h-1zM1259 676h1v1h-1zM1295 676h1v1h-1zM32 677h2v1h-2zM55 677h1v1h-1zM57 677h1v1h-1zM68 677h1v1h-1zM84 677h3v1h-3zM90 677h2v1h-2zM100 677h2v1h-2zM107 677h2v1h-2zM119 677h3v1h-3zM149 677h1v1h-1zM338 677h2v1h-2zM351 677h3v1h-3zM454 677h1v1h-1zM460 677h1v1h-1zM1256 677h3v1h-3zM1295 677h1v1h-1zM30 678h2v1h-2zM34 678h4v1h-4zM54 678h1v1h-1zM58 678h1v1h-1zM68 678h1v1h-1zM87 678h3v1h-3zM102 678h2v1h-2zM105 678h2v1h-2zM150 678h2v1h-2zM336 678h2v1h-2zM455 678h1v1h-1zM459 678h1v1h-1zM1256 678h1v1h-1zM1296 678h1v1h-1zM28 679h2v1h-2zM38 679h3v1h-3zM53 679h1v1h-1zM59 679h1v1h-1zM67 679h1v1h-1zM104 679h1v1h-1zM152 679h1v1h-1zM334 679h2v1h-2zM455 679h1v1h-1zM457 679h2v1h-2zM1296 679h10v1h-10zM26 680h2v1h-2zM41 680h2v1h-2zM51 680h2v1h-2zM60 680h2v1h-2zM66 680h1v1h-1zM153 680h2v1h-2zM239 680h2v1h-2zM333 680h1v1h-1zM456 680h1v1h-1zM1306 680h4v1h-4zM1317 680h3v1h-3zM24 681h2v1h-2zM43 681h2v1h-2zM50 681h1v1h-1zM62 681h1v1h-1zM65 681h1v1h-1zM155 681h2v1h-2zM237 681h2v1h-2zM241 681h2v1h-2zM255 681h2v1h-2zM331 681h2v1h-2zM1310 681h7v1h-7zM23 682h1v1h-1zM45 682h2v1h-2zM49 682h1v1h-1zM63 682h1v1h-1zM65 682h1v1h-1zM157 682h2v1h-2zM234 682h3v1h-3zM243 682h2v1h-2zM253 682h2v1h-2zM257 682h1v1h-1zM329 682h2v1h-2zM21 683h2v1h-2zM47 683h2v1h-2zM64 683h1v1h-1zM159 683h5v1h-5zM232 683h2v1h-2zM245 683h2v1h-2zM250 683h3v1h-3zM257 683h1v1h-1zM325 683h4v1h-4zM0 684h1v1h-1zM20 684h1v1h-1zM164 684h5v1h-5zM231 684h1v1h-1zM247 684h3v1h-3zM258 684h1v1h-1zM320 684h5v1h-5zM1 685h2v1h-2zM19 685h1v1h-1zM169 685h1v1h-1zM231 685h1v1h-1zM258 685h1v1h-1zM288 685h4v1h-4zM319 685h1v1h-1zM3 686h2v1h-2zM17 686h2v1h-2zM170 686h1v1h-1zM192 686h12v1h-12zM230 686h1v1h-1zM259 686h1v1h-1zM287 686h1v1h-1zM292 686h6v1h-6zM318 686h1v1h-1zM5 687h2v1h-2zM13 687h4v1h-4zM171 687h1v1h-1zM191 687h1v1h-1zM204 687h5v1h-5zM229 687h1v1h-1zM259 687h1v1h-1zM285 687h2v1h-2zM298 687h4v1h-4zM317 687h1v1h-1zM7 688h6v1h-6zM172 688h1v1h-1zM190 688h1v1h-1zM209 688h1v1h-1zM229 688h1v1h-1zM260 688h1v1h-1zM284 688h1v1h-1zM302 688h3v1h-3zM316 688h1v1h-1zM172 689h1v1h-1zM189 689h1v1h-1zM210 689h1v1h-1zM228 689h1v1h-1zM261 689h1v1h-1zM283 689h1v1h-1zM305 689h2v1h-2zM315 689h1v1h-1zM173 690h1v1h-1zM187 690h2v1h-2zM211 690h1v1h-1zM227 690h1v1h-1zM261 690h1v1h-1zM272 690h4v1h-4zM281 690h2v1h-2zM307 690h2v1h-2zM314 690h1v1h-1zM174 691h1v1h-1zM186 691h1v1h-1zM212 691h2v1h-2zM227 691h1v1h-1zM262 691h1v1h-1zM270 691h2v1h-2zM276 691h5v1h-5zM309 691h2v1h-2zM313 691h1v1h-1zM175 692h1v1h-1zM185 692h1v1h-1zM214 692h1v1h-1zM226 692h1v1h-1zM262 692h1v1h-1zM269 692h1v1h-1zM311 692h2v1h-2zM176 693h9v1h-9zM215 693h1v1h-1zM225 693h1v1h-1zM263 693h1v1h-1zM267 693h2v1h-2zM216 694h4v1h-4zM225 694h1v1h-1zM263 694h1v1h-1zM265 694h2v1h-2zM220 695h5v1h-5zM264 695h1v1h-1z" fill="#1e90ff"/>
<rect x="0" y="726" width="1" height="3" fill="#000"/>
<rect x="96" y="726" width="1" height="3" fill="#000"/>
<rect x="192" y="726" width="1" height="3" fill="#000"/>
<rect x="288" y="726" width="1" height="3" fill="#000"/>
<rect x="384" y="726" width="1" height="3" fill="#000"/>
<rect x="480" y="726" width="1" height="3" fill="#000"/>
<rect x="576" y="726" width="1" height="3" fill="#000"/>
<rect x="672" y="726" width="1" height="3" fill="#000"/>
<rect x="768" y="726" width="1" height="3" fill="#000"/>
<rect x="864" y="726" width="1" height="3" fill="#000"/>
<rect x="960" y="726" width="1" height="3" fill="#000"/>
<rect x="1056" y="726" width="1" height="3" fill="#000"/>
<rect x="1152" y="726" width="1" height="3" fill="#000"/>
<rect x="1248" y="726" width="1" height="3" fill="#000"/>
<rect x="1670" y="72" width="2" height="1" fill="#000"/>
<rect x="1670" y="121" width="2" height="1" fill="#000"/>
<rect x="1670" y="170" width="2" height="1" fill="#000"/>
<rect x="1670" y="219" width="2" height="1" fill="#000"/>
<rect x="1670" y="268" width="2" height="1" fill="#000"/>
<rect x="1670" y="317" width="2" height="1" fill="#000"/>
<rect x="1670" y="366" width="2" height="1" fill="#000"/>
<rect x="1670" y="415" width="2" height="1" fill="#000"/>
<rect x="1670" y="464" width="2" height="1" fill="#000"/>
<rect x="1670" y="513" width="2" height="1" fill="#000"/>
<rect x="1670" y="536" width="1" height="1" fill="#000"/>
<rect x="1670" y="560" width="1" height="1" fill="#000"/>
<rect x="1670" y="594" width="1" height="1" fill="#000"/>
<rect x="1670" y="599" width="1" height="1" fill="#000"/>
<rect x="1670" y="636" width="1" height="1" fill="#000"/>
<rect x="1670" y="687" width="1" height="1" fill="#000"/>
<rect x="1670" y="724" width="1" height="1" fill="#000"/>
<polygon points="1327,40 1339,40 1333,46" fill="#c0c0c0"/>
<polygon points="3,52.5 12,52.5 7.5,47.5" fill="#000" shape-rendering="auto"/>
</svg>

<div class="sep" style="left:174px"></div>
<div class="sep" style="left:489px"></div>
<div class="grip"></div>
<div class="h4box"></div>
<svg class="icons" width="175" height="37" viewBox="0 0 175 37" style="position:absolute;left:0;top:0">
 <g stroke="#5a5a5a" stroke-width="1.1" fill="none">
  <path d="M-1 22.5 L8.5 11.2 M4.5 28 L16.5 17.2"/>
  <path d="M0.5 19 L3 25.5 M3 16.5 L7.5 24.5 M6 14 L10.5 21.5 M9 12.5 L13.5 19 M0 24 L5 20 M3.5 23 L9 17.5 M7 21 L12 15.5" stroke-width="0.9"/>
  <path d="M13.2 9.2 L13.8 18.6 M11.5 13 L15.2 12.2" stroke-width="1.3"/>
 </g>
 <text x="12" y="30.8" font-family="Liberation Sans, sans-serif" font-weight="bold" font-size="9.5" fill="#5a5a5a">E</text>
 <g stroke="#6a6a6a" stroke-width="1.4" stroke-dasharray="1.5 1" fill="none">
  <path d="M33.3 11 H50.5 M33.3 15 H50.5 M33.3 20 H50.5 M33.3 25 H45"/>
 </g>
 <text x="45.8" y="30.8" font-family="Liberation Sans, sans-serif" font-weight="bold" font-size="9.5" fill="#5a5a5a">F</text>
 <text x="70.8" y="25.6" font-family="Liberation Sans, sans-serif" font-weight="bold" font-size="16.5" fill="#5a5a5a" textLength="10.2" lengthAdjust="spacingAndGlyphs">A</text>
 <rect x="103.5" y="12.5" width="14" height="15" fill="none" stroke="#5a5a5a" stroke-dasharray="1 1.5" shape-rendering="crispEdges"/>
 <rect x="101.5" y="10" width="3" height="3" fill="#777"/>
 <text x="105.4" y="25.6" font-family="Liberation Sans, sans-serif" font-weight="bold" font-size="14.5" fill="#777" textLength="10.2" lengthAdjust="spacingAndGlyphs">T</text>
 <path d="M135.8 16 L140 11.5 L144.2 16 L142.5 16 L142.5 17.8 L137.5 17.8 L137.5 16 Z M144.6 24 L149 28.2 L153.3 24 L151.5 24 L151.5 22 L146.5 22 L146.5 24 Z" fill="#5f5f5f"/>
 <path d="M138.4 21 L141.2 23.4 L146.8 17.2" stroke="#5a5a5a" stroke-width="1.5" fill="none"/>
 <path d="M158.7 17.8 L166.3 17.8 L162.5 22 Z" fill="#000"/>
</svg>


<div id="panel">
 <div class="lo l1"><span class="s">54</span><span class="b">09</span><span class="u">0</span></div>
 <div class="lo l2"><span class="s">54</span><span class="b">14</span><span class="u">0</span></div>
 <div class="sell"><span>SELL</span><u></u></div>
 <div class="buy"><span>BUY</span><u></u></div>
 <div class="vol"><div class="sp a"><svg width="7" height="4" viewBox="0 0 7 4" shape-rendering="crispEdges"><path d="M0 0h7v1h-7zM1 1h5v1h-5z" fill="#6676cc"/><path d="M2 2h3v1h-3zM3 3h1v1h-1z" fill="#4656a6"/></svg></div><b class="vs" style="left:23px"></b><div class="inp">1.00</div><b class="vs" style="right:23px"></b><div class="sp b"><svg width="7" height="4" viewBox="0 0 7 4" shape-rendering="crispEdges"><path d="M3 0h1v1h-1zM2 1h3v1h-3z" fill="#4656a6"/><path d="M1 2h5v1h-5zM0 3h7v1h-7z" fill="#6676cc"/></svg></div></div>
</div>

<div class="t " style="left:1676px;top:66px;">56.860</div>
<div class="t " style="left:1676px;top:115px;">56.210</div>
<div class="t " style="left:1676px;top:164px;">55.570</div>
<div class="t " style="left:1676px;top:213px;">54.930</div>
<div class="t " style="left:1676px;top:262px;">54.280</div>
<div class="t " style="left:1676px;top:311px;">53.640</div>
<div class="t " style="left:1676px;top:360px;">53.000</div>
<div class="t " style="left:1676px;top:409px;">52.360</div>
<div class="t " style="left:1676px;top:458px;">51.710</div>
<div class="t " style="left:1676px;top:507px;">51.070</div>
<div class="bx" style="top:54px;background:#ff0000">57.020</div>
<div class="bx" style="top:208px;background:#00ff7f">55.000</div>
<div class="bx" style="top:276px;background:#000">54.090</div>
<div class="bx" style="top:398px;background:#0000ff">52.500</div>
<div class="t " style="left:1673.5px;top:537px;">0.7391</div>
<div class="t " style="left:1673.5px;top:554px;">0.00</div>
<div class="t " style="left:1673.5px;top:581px;">-1.0406</div>
<div class="t " style="left:1673.5px;top:600px;">100</div>
<div class="t " style="left:1672.5px;top:630px;">70</div>
<div class="t " style="left:1672.5px;top:681px;">30</div>
<div class="t " style="left:1673.5px;top:711px;">0</div>
<div class="t " style="left:-0.5px;top:730px;letter-spacing:0.25px">25 Sep 2019</div>
<div class="t " style="left:95.5px;top:730px;letter-spacing:0.25px">27 Sep 04:00</div>
<div class="t " style="left:191.5px;top:730px;">1 Oct 00:00</div>
<div class="t " style="left:287.5px;top:730px;">3 Oct 00:00</div>
<div class="t " style="left:383.5px;top:730px;">6 Oct 23:00</div>
<div class="t " style="left:479.5px;top:730px;">8 Oct 20:00</div>
<div class="t " style="left:575.5px;top:730px;">10 Oct 20:00</div>
<div class="t " style="left:671.5px;top:730px;">14 Oct 16:00</div>
<div class="t " style="left:767.5px;top:730px;">16 Oct 16:00</div>
<div class="t " style="left:863.5px;top:730px;">18 Oct 16:00</div>
<div class="t " style="left:959.5px;top:730px;">22 Oct 12:00</div>
<div class="t " style="left:1055.5px;top:730px;">24 Oct 12:00</div>
<div class="t " style="left:1151.5px;top:730px;">28 Oct 08:00</div>
<div class="t " style="left:1247.5px;top:730px;">30 Oct 08:00</div>
<div class="t " style="left:18px;top:43px;letter-spacing:-0.3px">USOil-,H4</div>
<div class="t " style="left:77px;top:43px;letter-spacing:0.45px">54.060 54.170 54.040 54.090</div>
<div class="t " style="left:4px;top:539px;letter-spacing:0.15px">MACD(12,26,9)</div>
<div class="t " style="left:92.5px;top:539px;letter-spacing:0.45px">-0.3314 -0.1732</div>
<div class="t " style="left:4px;top:602px;letter-spacing:0.25px">RSI(14)</div>
<div class="t " style="left:50px;top:602px;letter-spacing:0.45px">35.6027</div>
<div class="t tb" style="left:191px;top:13px;">M1</div>
<div class="t tb" style="left:225px;top:13px;">M5</div>
<div class="t tb" style="left:256px;top:13px;">M15</div>
<div class="t tb" style="left:290px;top:13px;">M30</div>
<div class="t tb" style="left:328px;top:13px;">H1</div>
<div class="t tb" style="left:361px;top:13px;">H4</div>
<div class="t tb" style="left:396px;top:13px;">D1</div>
<div class="t tb" style="left:429px;top:13px;">W1</div>
<div class="t tb" style="left:462px;top:13px;">MN</div>
<div class="t big" style="left:1123px;top:326.5px;">多空转折点<span class="n">55</span></div>
</body></html>
